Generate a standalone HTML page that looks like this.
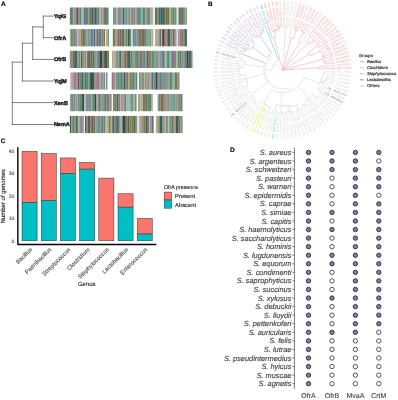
<!DOCTYPE html>
<html><head><meta charset="utf-8"><style>
html,body{margin:0;padding:0;background:#fff;}
body{width:398px;height:400px;overflow:hidden;}
svg{display:block;font-family:"Liberation Sans", sans-serif;text-rendering:geometricPrecision;will-change:transform;}
</style></head><body>
<svg width="398" height="400" viewBox="0 0 398 400">
<rect width="398" height="400" fill="#fff"/>
<text x="0.9" y="6.0" font-size="6.5" font-weight="bold" fill="#111" stroke="#111" stroke-width="0.2">A</text>
<path d="M12.3,62.2L12.3,124.5 M12.3,102.6L53.6,102.6 M12.3,124.5L53.6,124.5 M12.3,62.2L22.4,62.2 M22.4,43.2L22.4,81.0 M22.4,81.0L53.6,81.0 M22.4,43.2L32.7,43.2 M32.7,26.9L32.7,59.4 M32.7,59.4L53.6,59.4 M32.7,26.9L43.3,26.9 M43.3,16.1L43.3,37.7 M43.3,16.1L53.6,16.1 M43.3,37.7L53.6,37.7" stroke="#555" stroke-width="0.75" fill="none" stroke-linecap="square"/>
<text x="53.9" y="18.05" font-size="5.5" font-weight="bold" fill="#111" stroke="#111" stroke-width="0.35">YqiG</text>
<text x="53.9" y="39.65" font-size="5.5" font-weight="bold" fill="#111" stroke="#111" stroke-width="0.35">OfrA</text>
<text x="53.9" y="61.35" font-size="5.5" font-weight="bold" fill="#111" stroke="#111" stroke-width="0.35">OfrB</text>
<text x="53.9" y="82.95" font-size="5.5" font-weight="bold" fill="#111" stroke="#111" stroke-width="0.35">YqjM</text>
<text x="53.9" y="104.55" font-size="5.5" font-weight="bold" fill="#111" stroke="#111" stroke-width="0.35">XenB</text>
<text x="53.9" y="126.45" font-size="5.5" font-weight="bold" fill="#111" stroke="#111" stroke-width="0.35">NemA</text>
<rect x="69.80" y="7.50" width="1.25" height="17.2" fill="#5f8a72"/>
<rect x="71.00" y="7.50" width="1.55" height="17.2" fill="#7a7a4a"/>
<rect x="72.50" y="7.50" width="0.85" height="17.2" fill="#3f5e4e"/>
<rect x="73.30" y="7.50" width="2.65" height="17.2" fill="#b08ca4"/>
<rect x="75.90" y="7.50" width="0.85" height="17.2" fill="#7a6a52"/>
<rect x="76.70" y="7.50" width="1.85" height="17.2" fill="#3f5e4e"/>
<rect x="78.50" y="7.50" width="1.85" height="17.2" fill="#7f9488"/>
<rect x="80.30" y="7.50" width="0.85" height="17.2" fill="#3f5e4e"/>
<rect x="81.10" y="7.50" width="1.55" height="17.2" fill="#8fb0a6"/>
<rect x="82.60" y="7.50" width="0.85" height="17.2" fill="#7f9488"/>
<rect x="83.40" y="7.50" width="0.85" height="17.2" fill="#b08ca4"/>
<rect x="84.20" y="7.50" width="1.55" height="17.2" fill="#3f5e4e"/>
<rect x="85.70" y="7.50" width="2.65" height="17.2" fill="#6c7a94"/>
<rect x="88.30" y="7.50" width="0.85" height="17.2" fill="#7f9488"/>
<rect x="89.10" y="7.50" width="2.25" height="17.2" fill="#7a7a4a"/>
<rect x="91.30" y="7.50" width="1.85" height="17.2" fill="#3f5e4e"/>
<rect x="93.10" y="7.50" width="1.85" height="17.2" fill="#6c7a94"/>
<rect x="94.90" y="7.50" width="1.55" height="17.2" fill="#3f5e4e"/>
<rect x="96.40" y="7.50" width="1.05" height="17.2" fill="#3f5e4e"/>
<rect x="97.40" y="7.50" width="1.85" height="17.2" fill="#5f8a72"/>
<rect x="99.20" y="7.50" width="1.25" height="17.2" fill="#8fb0a6"/>
<rect x="100.40" y="7.50" width="1.05" height="17.2" fill="#b08ca4"/>
<rect x="101.40" y="7.50" width="0.85" height="17.2" fill="#6c7a94"/>
<rect x="102.20" y="7.50" width="1.25" height="17.2" fill="#b08ca4"/>
<rect x="103.40" y="7.50" width="2.65" height="17.2" fill="#7a7a4a"/>
<rect x="106.00" y="7.50" width="1.05" height="17.2" fill="#5f8a72"/>
<rect x="107.00" y="7.50" width="1.55" height="17.2" fill="#6c7a94"/>
<rect x="113.00" y="7.50" width="2.25" height="17.2" fill="#7f9488"/>
<rect x="115.20" y="7.50" width="1.25" height="17.2" fill="#5f8a72"/>
<rect x="116.40" y="7.50" width="1.85" height="17.2" fill="#b6ae8a"/>
<rect x="118.20" y="7.50" width="0.85" height="17.2" fill="#6c7a94"/>
<rect x="119.00" y="7.50" width="0.85" height="17.2" fill="#6c7a94"/>
<rect x="119.80" y="7.50" width="1.05" height="17.2" fill="#5a9a8c"/>
<rect x="120.80" y="7.50" width="2.25" height="17.2" fill="#b08ca4"/>
<rect x="123.00" y="7.50" width="1.55" height="17.2" fill="#58605c"/>
<rect x="124.50" y="7.50" width="1.25" height="17.2" fill="#5a9a8c"/>
<rect x="125.70" y="7.50" width="1.85" height="17.2" fill="#5a9a8c"/>
<rect x="127.50" y="7.50" width="1.25" height="17.2" fill="#9c9686"/>
<rect x="128.70" y="7.50" width="1.05" height="17.2" fill="#58605c"/>
<rect x="129.70" y="7.50" width="1.05" height="17.2" fill="#b6ae8a"/>
<rect x="130.70" y="7.50" width="2.65" height="17.2" fill="#7f9488"/>
<rect x="133.30" y="7.50" width="0.85" height="17.2" fill="#6c7a94"/>
<rect x="134.10" y="7.50" width="1.25" height="17.2" fill="#9a7a86"/>
<rect x="135.30" y="7.50" width="1.55" height="17.2" fill="#9c9686"/>
<rect x="136.80" y="7.50" width="2.25" height="17.2" fill="#5a9a8c"/>
<rect x="139.00" y="7.50" width="1.25" height="17.2" fill="#6c7a94"/>
<rect x="140.20" y="7.50" width="0.85" height="17.2" fill="#5f8a72"/>
<rect x="141.00" y="7.50" width="1.85" height="17.2" fill="#8fb0a6"/>
<rect x="142.80" y="7.50" width="1.05" height="17.2" fill="#58605c"/>
<rect x="143.80" y="7.50" width="1.25" height="17.2" fill="#5f8a72"/>
<rect x="145.00" y="7.50" width="1.55" height="17.2" fill="#8fb0a6"/>
<rect x="146.50" y="7.50" width="0.85" height="17.2" fill="#7a7a4a"/>
<rect x="147.30" y="7.50" width="0.85" height="17.2" fill="#58605c"/>
<rect x="148.10" y="7.50" width="1.85" height="17.2" fill="#6c7a94"/>
<rect x="149.90" y="7.50" width="2.65" height="17.2" fill="#a0b890"/>
<rect x="152.50" y="7.50" width="0.75" height="17.2" fill="#9c9686"/>
<rect x="154.90" y="7.50" width="2.25" height="17.2" fill="#7a6a52"/>
<rect x="157.10" y="7.50" width="1.85" height="17.2" fill="#5a9a8c"/>
<rect x="158.90" y="7.50" width="1.85" height="17.2" fill="#58605c"/>
<rect x="160.70" y="7.50" width="1.55" height="17.2" fill="#3f5e4e"/>
<rect x="162.20" y="7.50" width="2.65" height="17.2" fill="#3f5e4e"/>
<rect x="164.80" y="7.50" width="1.25" height="17.2" fill="#5a9a8c"/>
<rect x="166.00" y="7.50" width="2.25" height="17.2" fill="#7a7a4a"/>
<rect x="168.20" y="7.50" width="0.85" height="17.2" fill="#3f5e4e"/>
<rect x="169.00" y="7.50" width="2.25" height="17.2" fill="#b6ae8a"/>
<rect x="171.20" y="7.50" width="1.25" height="17.2" fill="#7a7a4a"/>
<rect x="172.40" y="7.50" width="1.85" height="17.2" fill="#7a7a4a"/>
<rect x="174.20" y="7.50" width="2.35" height="17.2" fill="#5a9a8c"/>
<rect x="177.70" y="7.50" width="1.25" height="17.2" fill="#b6ae8a"/>
<rect x="178.90" y="7.50" width="1.55" height="17.2" fill="#7a7a4a"/>
<rect x="180.40" y="7.50" width="1.25" height="17.2" fill="#34444a"/>
<rect x="181.60" y="7.50" width="1.55" height="17.2" fill="#7a6a52"/>
<rect x="183.10" y="7.50" width="1.05" height="17.2" fill="#6c7a94"/>
<rect x="184.10" y="7.50" width="0.85" height="17.2" fill="#5a9a8c"/>
<rect x="184.90" y="7.50" width="0.85" height="17.2" fill="#7f9488"/>
<rect x="185.70" y="7.50" width="1.35" height="17.2" fill="#9c9686"/>
<rect x="69.80" y="29.10" width="1.05" height="17.2" fill="#b6ae8a"/>
<rect x="70.80" y="29.10" width="1.05" height="17.2" fill="#7a6a52"/>
<rect x="71.80" y="29.10" width="1.55" height="17.2" fill="#5a9a8c"/>
<rect x="73.30" y="29.10" width="0.85" height="17.2" fill="#5f8a72"/>
<rect x="74.10" y="29.10" width="1.55" height="17.2" fill="#7a6a52"/>
<rect x="75.60" y="29.10" width="1.85" height="17.2" fill="#7f9488"/>
<rect x="77.40" y="29.10" width="1.05" height="17.2" fill="#a0b890"/>
<rect x="78.40" y="29.10" width="1.55" height="17.2" fill="#b08ca4"/>
<rect x="79.90" y="29.10" width="1.25" height="17.2" fill="#b6ae8a"/>
<rect x="81.10" y="29.10" width="1.55" height="17.2" fill="#7a6a52"/>
<rect x="82.60" y="29.10" width="2.25" height="17.2" fill="#7a6a52"/>
<rect x="84.80" y="29.10" width="1.05" height="17.2" fill="#5f8a72"/>
<rect x="85.80" y="29.10" width="0.85" height="17.2" fill="#5f8a72"/>
<rect x="86.60" y="29.10" width="1.05" height="17.2" fill="#7f9488"/>
<rect x="87.60" y="29.10" width="2.25" height="17.2" fill="#7f9488"/>
<rect x="89.80" y="29.10" width="0.85" height="17.2" fill="#5a9a8c"/>
<rect x="90.60" y="29.10" width="2.65" height="17.2" fill="#6c7a94"/>
<rect x="93.20" y="29.10" width="1.05" height="17.2" fill="#7f9488"/>
<rect x="94.20" y="29.10" width="1.25" height="17.2" fill="#34444a"/>
<rect x="95.40" y="29.10" width="1.05" height="17.2" fill="#8fb0a6"/>
<rect x="96.40" y="29.10" width="1.85" height="17.2" fill="#7a6a52"/>
<rect x="98.20" y="29.10" width="1.85" height="17.2" fill="#6c7a94"/>
<rect x="100.00" y="29.10" width="1.25" height="17.2" fill="#5f8a72"/>
<rect x="101.20" y="29.10" width="2.25" height="17.2" fill="#9a7a86"/>
<rect x="103.40" y="29.10" width="1.65" height="17.2" fill="#7a7a4a"/>
<rect x="105.80" y="29.10" width="2.25" height="17.2" fill="#b6ae8a"/>
<rect x="108.00" y="29.10" width="0.85" height="17.2" fill="#5a9a8c"/>
<rect x="108.80" y="29.10" width="0.25" height="17.2" fill="#58605c"/>
<rect x="112.80" y="29.10" width="2.65" height="17.2" fill="#7a7a4a"/>
<rect x="115.40" y="29.10" width="2.65" height="17.2" fill="#b08ca4"/>
<rect x="118.00" y="29.10" width="1.55" height="17.2" fill="#7a6a52"/>
<rect x="119.50" y="29.10" width="1.55" height="17.2" fill="#7a6a52"/>
<rect x="121.00" y="29.10" width="0.85" height="17.2" fill="#5a9a8c"/>
<rect x="121.80" y="29.10" width="2.25" height="17.2" fill="#7a6a52"/>
<rect x="124.00" y="29.10" width="0.85" height="17.2" fill="#7f9488"/>
<rect x="124.80" y="29.10" width="0.85" height="17.2" fill="#7f9488"/>
<rect x="125.60" y="29.10" width="1.55" height="17.2" fill="#5f8a72"/>
<rect x="127.10" y="29.10" width="0.85" height="17.2" fill="#9c9686"/>
<rect x="127.90" y="29.10" width="1.85" height="17.2" fill="#3f5e4e"/>
<rect x="129.70" y="29.10" width="0.85" height="17.2" fill="#34444a"/>
<rect x="130.50" y="29.10" width="0.85" height="17.2" fill="#5f8a72"/>
<rect x="132.60" y="29.10" width="1.85" height="17.2" fill="#5f8a72"/>
<rect x="134.40" y="29.10" width="1.25" height="17.2" fill="#6c7a94"/>
<rect x="135.60" y="29.10" width="0.85" height="17.2" fill="#3f5e4e"/>
<rect x="136.40" y="29.10" width="2.65" height="17.2" fill="#7f9488"/>
<rect x="139.00" y="29.10" width="1.85" height="17.2" fill="#7a6a52"/>
<rect x="140.80" y="29.10" width="1.05" height="17.2" fill="#7a7a4a"/>
<rect x="141.80" y="29.10" width="1.25" height="17.2" fill="#7a6a52"/>
<rect x="143.00" y="29.10" width="1.85" height="17.2" fill="#7a6a52"/>
<rect x="144.80" y="29.10" width="1.55" height="17.2" fill="#5f8a72"/>
<rect x="146.30" y="29.10" width="0.85" height="17.2" fill="#5a9a8c"/>
<rect x="147.10" y="29.10" width="1.55" height="17.2" fill="#5a9a8c"/>
<rect x="148.60" y="29.10" width="1.55" height="17.2" fill="#9c9686"/>
<rect x="150.10" y="29.10" width="0.85" height="17.2" fill="#5f8a72"/>
<rect x="150.90" y="29.10" width="0.85" height="17.2" fill="#b6ae8a"/>
<rect x="151.70" y="29.10" width="1.25" height="17.2" fill="#b6ae8a"/>
<rect x="152.90" y="29.10" width="0.35" height="17.2" fill="#5a9a8c"/>
<rect x="155.00" y="29.10" width="2.65" height="17.2" fill="#b6ae8a"/>
<rect x="157.60" y="29.10" width="1.05" height="17.2" fill="#9a7a86"/>
<rect x="158.60" y="29.10" width="0.85" height="17.2" fill="#7f9488"/>
<rect x="159.40" y="29.10" width="1.85" height="17.2" fill="#7a6a52"/>
<rect x="161.20" y="29.10" width="1.05" height="17.2" fill="#b6ae8a"/>
<rect x="162.20" y="29.10" width="1.85" height="17.2" fill="#34444a"/>
<rect x="164.00" y="29.10" width="2.65" height="17.2" fill="#9a7a86"/>
<rect x="166.60" y="29.10" width="1.25" height="17.2" fill="#7a7a4a"/>
<rect x="167.80" y="29.10" width="2.65" height="17.2" fill="#3f5e4e"/>
<rect x="170.40" y="29.10" width="2.25" height="17.2" fill="#7f9488"/>
<rect x="172.60" y="29.10" width="1.85" height="17.2" fill="#7a6a52"/>
<rect x="174.40" y="29.10" width="1.05" height="17.2" fill="#7a6a52"/>
<rect x="175.40" y="29.10" width="1.15" height="17.2" fill="#7f9488"/>
<rect x="177.70" y="29.10" width="1.85" height="17.2" fill="#b08ca4"/>
<rect x="179.50" y="29.10" width="2.65" height="17.2" fill="#9a7a86"/>
<rect x="182.10" y="29.10" width="1.25" height="17.2" fill="#7a7a4a"/>
<rect x="183.30" y="29.10" width="1.05" height="17.2" fill="#6c7a94"/>
<rect x="184.30" y="29.10" width="2.65" height="17.2" fill="#58605c"/>
<rect x="186.90" y="29.10" width="0.15" height="17.2" fill="#7f9488"/>
<rect x="69.80" y="50.80" width="2.65" height="17.2" fill="#7f9488"/>
<rect x="72.40" y="50.80" width="2.65" height="17.2" fill="#7a6a52"/>
<rect x="75.00" y="50.80" width="2.25" height="17.2" fill="#58605c"/>
<rect x="77.20" y="50.80" width="1.05" height="17.2" fill="#7f9488"/>
<rect x="78.20" y="50.80" width="1.85" height="17.2" fill="#5a9a8c"/>
<rect x="80.00" y="50.80" width="1.25" height="17.2" fill="#b6ae8a"/>
<rect x="81.20" y="50.80" width="0.85" height="17.2" fill="#34444a"/>
<rect x="82.00" y="50.80" width="2.65" height="17.2" fill="#7f9488"/>
<rect x="84.60" y="50.80" width="1.55" height="17.2" fill="#7f9488"/>
<rect x="86.10" y="50.80" width="1.05" height="17.2" fill="#b6ae8a"/>
<rect x="87.10" y="50.80" width="1.85" height="17.2" fill="#7a6a52"/>
<rect x="88.90" y="50.80" width="1.55" height="17.2" fill="#58605c"/>
<rect x="90.40" y="50.80" width="2.25" height="17.2" fill="#7a6a52"/>
<rect x="92.60" y="50.80" width="1.25" height="17.2" fill="#3f5e4e"/>
<rect x="93.80" y="50.80" width="1.05" height="17.2" fill="#5f8a72"/>
<rect x="94.80" y="50.80" width="1.05" height="17.2" fill="#5a9a8c"/>
<rect x="95.80" y="50.80" width="1.05" height="17.2" fill="#9c9686"/>
<rect x="96.80" y="50.80" width="1.05" height="17.2" fill="#5a9a8c"/>
<rect x="97.80" y="50.80" width="1.85" height="17.2" fill="#6c7a94"/>
<rect x="99.60" y="50.80" width="2.65" height="17.2" fill="#34444a"/>
<rect x="102.20" y="50.80" width="1.55" height="17.2" fill="#7a7a4a"/>
<rect x="103.70" y="50.80" width="1.25" height="17.2" fill="#58605c"/>
<rect x="104.90" y="50.80" width="2.25" height="17.2" fill="#3f5e4e"/>
<rect x="107.10" y="50.80" width="1.95" height="17.2" fill="#7a7a4a"/>
<rect x="112.40" y="50.80" width="0.85" height="17.2" fill="#7a6a52"/>
<rect x="113.20" y="50.80" width="2.65" height="17.2" fill="#b6ae8a"/>
<rect x="115.80" y="50.80" width="2.65" height="17.2" fill="#7f9488"/>
<rect x="118.40" y="50.80" width="1.55" height="17.2" fill="#5f8a72"/>
<rect x="119.90" y="50.80" width="1.55" height="17.2" fill="#58605c"/>
<rect x="121.40" y="50.80" width="2.25" height="17.2" fill="#9c9686"/>
<rect x="123.60" y="50.80" width="0.85" height="17.2" fill="#58605c"/>
<rect x="124.40" y="50.80" width="2.25" height="17.2" fill="#7a6a52"/>
<rect x="126.60" y="50.80" width="1.55" height="17.2" fill="#7a6a52"/>
<rect x="128.10" y="50.80" width="2.25" height="17.2" fill="#3f5e4e"/>
<rect x="130.30" y="50.80" width="2.25" height="17.2" fill="#5f8a72"/>
<rect x="132.50" y="50.80" width="1.05" height="17.2" fill="#5f8a72"/>
<rect x="133.50" y="50.80" width="0.85" height="17.2" fill="#5f8a72"/>
<rect x="134.30" y="50.80" width="1.85" height="17.2" fill="#5a9a8c"/>
<rect x="136.10" y="50.80" width="2.65" height="17.2" fill="#7a7a4a"/>
<rect x="138.70" y="50.80" width="1.05" height="17.2" fill="#6c7a94"/>
<rect x="139.70" y="50.80" width="2.65" height="17.2" fill="#6c7a94"/>
<rect x="142.30" y="50.80" width="1.55" height="17.2" fill="#7a7a4a"/>
<rect x="143.80" y="50.80" width="1.25" height="17.2" fill="#5f8a72"/>
<rect x="145.00" y="50.80" width="1.85" height="17.2" fill="#b08ca4"/>
<rect x="146.80" y="50.80" width="1.05" height="17.2" fill="#34444a"/>
<rect x="147.80" y="50.80" width="0.85" height="17.2" fill="#58605c"/>
<rect x="148.60" y="50.80" width="2.25" height="17.2" fill="#7a7a4a"/>
<rect x="150.80" y="50.80" width="0.85" height="17.2" fill="#9a7a86"/>
<rect x="151.60" y="50.80" width="2.25" height="17.2" fill="#5f8a72"/>
<rect x="153.80" y="50.80" width="1.55" height="17.2" fill="#7f9488"/>
<rect x="155.30" y="50.80" width="2.65" height="17.2" fill="#7f9488"/>
<rect x="157.90" y="50.80" width="0.85" height="17.2" fill="#7f9488"/>
<rect x="158.70" y="50.80" width="1.05" height="17.2" fill="#9c9686"/>
<rect x="159.70" y="50.80" width="1.85" height="17.2" fill="#7f9488"/>
<rect x="161.50" y="50.80" width="2.65" height="17.2" fill="#6c7a94"/>
<rect x="164.10" y="50.80" width="1.25" height="17.2" fill="#7f9488"/>
<rect x="165.30" y="50.80" width="1.85" height="17.2" fill="#8fb0a6"/>
<rect x="167.10" y="50.80" width="2.65" height="17.2" fill="#5f8a72"/>
<rect x="169.70" y="50.80" width="0.85" height="17.2" fill="#b6ae8a"/>
<rect x="170.50" y="50.80" width="1.25" height="17.2" fill="#5a9a8c"/>
<rect x="171.70" y="50.80" width="2.25" height="17.2" fill="#6c7a94"/>
<rect x="173.90" y="50.80" width="2.65" height="17.2" fill="#9a7a86"/>
<rect x="176.50" y="50.80" width="1.55" height="17.2" fill="#a0b890"/>
<rect x="178.00" y="50.80" width="1.85" height="17.2" fill="#5f8a72"/>
<rect x="179.80" y="50.80" width="1.85" height="17.2" fill="#5f8a72"/>
<rect x="181.60" y="50.80" width="1.85" height="17.2" fill="#9a7a86"/>
<rect x="183.40" y="50.80" width="0.85" height="17.2" fill="#5a9a8c"/>
<rect x="184.20" y="50.80" width="2.65" height="17.2" fill="#5f8a72"/>
<rect x="186.80" y="50.80" width="1.85" height="17.2" fill="#34444a"/>
<rect x="188.60" y="50.80" width="2.65" height="17.2" fill="#58605c"/>
<rect x="191.20" y="50.80" width="1.05" height="17.2" fill="#5f8a72"/>
<rect x="192.20" y="50.80" width="0.35" height="17.2" fill="#5a9a8c"/>
<rect x="70.30" y="72.40" width="1.85" height="17.2" fill="#b6ae8a"/>
<rect x="72.10" y="72.40" width="0.85" height="17.2" fill="#b08ca4"/>
<rect x="72.90" y="72.40" width="0.85" height="17.2" fill="#9c9686"/>
<rect x="73.70" y="72.40" width="2.25" height="17.2" fill="#9a7a86"/>
<rect x="75.90" y="72.40" width="1.85" height="17.2" fill="#b08ca4"/>
<rect x="77.70" y="72.40" width="1.55" height="17.2" fill="#58605c"/>
<rect x="79.20" y="72.40" width="2.65" height="17.2" fill="#5f8a72"/>
<rect x="81.80" y="72.40" width="1.85" height="17.2" fill="#3f5e4e"/>
<rect x="83.60" y="72.40" width="1.05" height="17.2" fill="#7f9488"/>
<rect x="84.60" y="72.40" width="1.25" height="17.2" fill="#3f5e4e"/>
<rect x="85.80" y="72.40" width="2.65" height="17.2" fill="#5f8a72"/>
<rect x="88.40" y="72.40" width="1.85" height="17.2" fill="#5a9a8c"/>
<rect x="90.20" y="72.40" width="1.85" height="17.2" fill="#34444a"/>
<rect x="92.00" y="72.40" width="2.65" height="17.2" fill="#3f5e4e"/>
<rect x="94.60" y="72.40" width="1.55" height="17.2" fill="#9c9686"/>
<rect x="96.10" y="72.40" width="1.85" height="17.2" fill="#9a7a86"/>
<rect x="97.90" y="72.40" width="1.85" height="17.2" fill="#9a7a86"/>
<rect x="99.70" y="72.40" width="1.05" height="17.2" fill="#b6ae8a"/>
<rect x="100.70" y="72.40" width="1.25" height="17.2" fill="#5a9a8c"/>
<rect x="101.90" y="72.40" width="1.85" height="17.2" fill="#b08ca4"/>
<rect x="103.70" y="72.40" width="1.35" height="17.2" fill="#5a9a8c"/>
<rect x="105.80" y="72.40" width="1.75" height="17.2" fill="#7f9488"/>
<rect x="111.70" y="72.40" width="2.25" height="17.2" fill="#9a7a86"/>
<rect x="113.90" y="72.40" width="1.25" height="17.2" fill="#b08ca4"/>
<rect x="115.10" y="72.40" width="1.05" height="17.2" fill="#a0b890"/>
<rect x="116.10" y="72.40" width="1.55" height="17.2" fill="#5f8a72"/>
<rect x="117.60" y="72.40" width="1.55" height="17.2" fill="#5f8a72"/>
<rect x="119.10" y="72.40" width="1.55" height="17.2" fill="#5a9a8c"/>
<rect x="120.60" y="72.40" width="1.25" height="17.2" fill="#3f5e4e"/>
<rect x="121.80" y="72.40" width="2.25" height="17.2" fill="#7f9488"/>
<rect x="124.00" y="72.40" width="1.55" height="17.2" fill="#3f5e4e"/>
<rect x="125.50" y="72.40" width="1.05" height="17.2" fill="#7a7a4a"/>
<rect x="126.50" y="72.40" width="1.25" height="17.2" fill="#58605c"/>
<rect x="127.70" y="72.40" width="0.85" height="17.2" fill="#58605c"/>
<rect x="128.50" y="72.40" width="1.05" height="17.2" fill="#b6ae8a"/>
<rect x="129.50" y="72.40" width="2.25" height="17.2" fill="#7a7a4a"/>
<rect x="131.70" y="72.40" width="1.25" height="17.2" fill="#5f8a72"/>
<rect x="132.90" y="72.40" width="1.25" height="17.2" fill="#5f8a72"/>
<rect x="134.10" y="72.40" width="1.55" height="17.2" fill="#7f9488"/>
<rect x="135.60" y="72.40" width="1.75" height="17.2" fill="#5f8a72"/>
<rect x="139.00" y="72.40" width="1.55" height="17.2" fill="#5a9a8c"/>
<rect x="140.50" y="72.40" width="1.05" height="17.2" fill="#7a7a4a"/>
<rect x="141.50" y="72.40" width="2.65" height="17.2" fill="#7f9488"/>
<rect x="144.10" y="72.40" width="1.05" height="17.2" fill="#b6ae8a"/>
<rect x="145.10" y="72.40" width="1.55" height="17.2" fill="#9a7a86"/>
<rect x="146.60" y="72.40" width="1.55" height="17.2" fill="#9c9686"/>
<rect x="148.10" y="72.40" width="1.55" height="17.2" fill="#7f9488"/>
<rect x="149.60" y="72.40" width="1.25" height="17.2" fill="#9c9686"/>
<rect x="150.80" y="72.40" width="0.85" height="17.2" fill="#b6ae8a"/>
<rect x="151.60" y="72.40" width="1.25" height="17.2" fill="#34444a"/>
<rect x="152.80" y="72.40" width="1.25" height="17.2" fill="#b08ca4"/>
<rect x="154.00" y="72.40" width="1.55" height="17.2" fill="#5a9a8c"/>
<rect x="155.50" y="72.40" width="2.25" height="17.2" fill="#34444a"/>
<rect x="157.70" y="72.40" width="1.55" height="17.2" fill="#9c9686"/>
<rect x="159.20" y="72.40" width="1.85" height="17.2" fill="#6c7a94"/>
<rect x="161.00" y="72.40" width="1.25" height="17.2" fill="#9a7a86"/>
<rect x="162.20" y="72.40" width="0.85" height="17.2" fill="#5f8a72"/>
<rect x="163.00" y="72.40" width="2.65" height="17.2" fill="#7f9488"/>
<rect x="165.60" y="72.40" width="0.85" height="17.2" fill="#3f5e4e"/>
<rect x="166.40" y="72.40" width="1.25" height="17.2" fill="#7f9488"/>
<rect x="167.60" y="72.40" width="0.85" height="17.2" fill="#58605c"/>
<rect x="168.40" y="72.40" width="1.05" height="17.2" fill="#7f9488"/>
<rect x="169.40" y="72.40" width="2.65" height="17.2" fill="#5f8a72"/>
<rect x="172.00" y="72.40" width="2.65" height="17.2" fill="#8fb0a6"/>
<rect x="174.60" y="72.40" width="2.65" height="17.2" fill="#7a7a4a"/>
<rect x="177.20" y="72.40" width="2.35" height="17.2" fill="#7f9488"/>
<rect x="70.30" y="94.00" width="1.55" height="17.2" fill="#5f8a72"/>
<rect x="71.80" y="94.00" width="1.85" height="17.2" fill="#9a7a86"/>
<rect x="73.60" y="94.00" width="1.85" height="17.2" fill="#5a9a8c"/>
<rect x="75.40" y="94.00" width="2.25" height="17.2" fill="#9c9686"/>
<rect x="77.60" y="94.00" width="0.85" height="17.2" fill="#7f9488"/>
<rect x="78.40" y="94.00" width="0.85" height="17.2" fill="#58605c"/>
<rect x="79.20" y="94.00" width="2.25" height="17.2" fill="#5f8a72"/>
<rect x="81.40" y="94.00" width="1.55" height="17.2" fill="#3f5e4e"/>
<rect x="82.90" y="94.00" width="1.25" height="17.2" fill="#34444a"/>
<rect x="84.10" y="94.00" width="0.25" height="17.2" fill="#3f5e4e"/>
<rect x="85.40" y="94.00" width="2.65" height="17.2" fill="#7f9488"/>
<rect x="88.00" y="94.00" width="0.85" height="17.2" fill="#6c7a94"/>
<rect x="88.80" y="94.00" width="2.65" height="17.2" fill="#7f9488"/>
<rect x="91.40" y="94.00" width="0.85" height="17.2" fill="#7f9488"/>
<rect x="92.20" y="94.00" width="2.65" height="17.2" fill="#5f8a72"/>
<rect x="94.80" y="94.00" width="1.55" height="17.2" fill="#34444a"/>
<rect x="96.30" y="94.00" width="1.25" height="17.2" fill="#b08ca4"/>
<rect x="97.50" y="94.00" width="1.55" height="17.2" fill="#7f9488"/>
<rect x="99.00" y="94.00" width="1.85" height="17.2" fill="#5f8a72"/>
<rect x="100.80" y="94.00" width="0.85" height="17.2" fill="#9a7a86"/>
<rect x="101.60" y="94.00" width="2.25" height="17.2" fill="#7f9488"/>
<rect x="103.80" y="94.00" width="0.85" height="17.2" fill="#5f8a72"/>
<rect x="104.60" y="94.00" width="1.25" height="17.2" fill="#3f5e4e"/>
<rect x="105.80" y="94.00" width="1.05" height="17.2" fill="#7f9488"/>
<rect x="106.80" y="94.00" width="1.25" height="17.2" fill="#7a7a4a"/>
<rect x="108.00" y="94.00" width="1.25" height="17.2" fill="#9a7a86"/>
<rect x="109.20" y="94.00" width="2.45" height="17.2" fill="#7f9488"/>
<rect x="112.90" y="94.00" width="1.25" height="17.2" fill="#5a9a8c"/>
<rect x="114.10" y="94.00" width="1.85" height="17.2" fill="#7a7a4a"/>
<rect x="115.90" y="94.00" width="1.05" height="17.2" fill="#7f9488"/>
<rect x="116.90" y="94.00" width="1.25" height="17.2" fill="#58605c"/>
<rect x="118.10" y="94.00" width="0.85" height="17.2" fill="#7f9488"/>
<rect x="118.90" y="94.00" width="0.85" height="17.2" fill="#34444a"/>
<rect x="119.70" y="94.00" width="0.85" height="17.2" fill="#b6ae8a"/>
<rect x="120.50" y="94.00" width="1.85" height="17.2" fill="#b08ca4"/>
<rect x="122.30" y="94.00" width="1.05" height="17.2" fill="#9a7a86"/>
<rect x="123.30" y="94.00" width="1.55" height="17.2" fill="#7f9488"/>
<rect x="124.80" y="94.00" width="1.55" height="17.2" fill="#5f8a72"/>
<rect x="126.30" y="94.00" width="2.25" height="17.2" fill="#a0b890"/>
<rect x="128.50" y="94.00" width="2.25" height="17.2" fill="#8fb0a6"/>
<rect x="130.70" y="94.00" width="2.25" height="17.2" fill="#5a9a8c"/>
<rect x="132.90" y="94.00" width="1.85" height="17.2" fill="#a0b890"/>
<rect x="134.70" y="94.00" width="1.55" height="17.2" fill="#9a7a86"/>
<rect x="136.20" y="94.00" width="0.85" height="17.2" fill="#b6ae8a"/>
<rect x="138.20" y="94.00" width="1.05" height="17.2" fill="#7f9488"/>
<rect x="139.20" y="94.00" width="1.25" height="17.2" fill="#7f9488"/>
<rect x="140.40" y="94.00" width="2.65" height="17.2" fill="#b6ae8a"/>
<rect x="143.00" y="94.00" width="2.25" height="17.2" fill="#7a7a4a"/>
<rect x="145.20" y="94.00" width="1.05" height="17.2" fill="#7a6a52"/>
<rect x="146.20" y="94.00" width="1.25" height="17.2" fill="#3f5e4e"/>
<rect x="147.40" y="94.00" width="2.65" height="17.2" fill="#5f8a72"/>
<rect x="150.00" y="94.00" width="0.85" height="17.2" fill="#3f5e4e"/>
<rect x="150.80" y="94.00" width="2.05" height="17.2" fill="#b6ae8a"/>
<rect x="157.50" y="94.00" width="1.25" height="17.2" fill="#8fb0a6"/>
<rect x="158.70" y="94.00" width="1.05" height="17.2" fill="#3f5e4e"/>
<rect x="159.70" y="94.00" width="0.85" height="17.2" fill="#7a7a4a"/>
<rect x="160.50" y="94.00" width="2.65" height="17.2" fill="#7a6a52"/>
<rect x="163.10" y="94.00" width="2.65" height="17.2" fill="#9a7a86"/>
<rect x="165.70" y="94.00" width="2.25" height="17.2" fill="#9c9686"/>
<rect x="167.90" y="94.00" width="1.85" height="17.2" fill="#7f9488"/>
<rect x="169.70" y="94.00" width="2.25" height="17.2" fill="#9c9686"/>
<rect x="171.90" y="94.00" width="0.85" height="17.2" fill="#5a9a8c"/>
<rect x="172.70" y="94.00" width="1.05" height="17.2" fill="#5f8a72"/>
<rect x="173.70" y="94.00" width="1.25" height="17.2" fill="#5a9a8c"/>
<rect x="174.90" y="94.00" width="0.85" height="17.2" fill="#7f9488"/>
<rect x="175.70" y="94.00" width="1.25" height="17.2" fill="#9c9686"/>
<rect x="176.90" y="94.00" width="1.85" height="17.2" fill="#9c9686"/>
<rect x="178.70" y="94.00" width="1.05" height="17.2" fill="#3f5e4e"/>
<rect x="179.70" y="94.00" width="1.25" height="17.2" fill="#7f9488"/>
<rect x="180.90" y="94.00" width="1.25" height="17.2" fill="#5f8a72"/>
<rect x="182.10" y="94.00" width="0.55" height="17.2" fill="#9c9686"/>
<rect x="69.90" y="115.90" width="1.55" height="17.2" fill="#3f5e4e"/>
<rect x="71.40" y="115.90" width="1.55" height="17.2" fill="#7f9488"/>
<rect x="72.90" y="115.90" width="1.85" height="17.2" fill="#7a7a4a"/>
<rect x="74.70" y="115.90" width="1.05" height="17.2" fill="#7f9488"/>
<rect x="75.70" y="115.90" width="1.85" height="17.2" fill="#58605c"/>
<rect x="77.50" y="115.90" width="0.85" height="17.2" fill="#3f5e4e"/>
<rect x="78.30" y="115.90" width="1.25" height="17.2" fill="#a0b890"/>
<rect x="79.50" y="115.90" width="0.85" height="17.2" fill="#5f8a72"/>
<rect x="80.30" y="115.90" width="1.55" height="17.2" fill="#6c7a94"/>
<rect x="81.80" y="115.90" width="0.85" height="17.2" fill="#7a6a52"/>
<rect x="82.60" y="115.90" width="0.85" height="17.2" fill="#9c9686"/>
<rect x="83.40" y="115.90" width="0.45" height="17.2" fill="#7a7a4a"/>
<rect x="84.90" y="115.90" width="1.05" height="17.2" fill="#3f5e4e"/>
<rect x="85.90" y="115.90" width="1.85" height="17.2" fill="#9a7a86"/>
<rect x="87.70" y="115.90" width="2.65" height="17.2" fill="#58605c"/>
<rect x="90.30" y="115.90" width="1.05" height="17.2" fill="#7a7a4a"/>
<rect x="91.30" y="115.90" width="2.25" height="17.2" fill="#58605c"/>
<rect x="93.50" y="115.90" width="1.85" height="17.2" fill="#7a6a52"/>
<rect x="95.30" y="115.90" width="2.65" height="17.2" fill="#9c9686"/>
<rect x="97.90" y="115.90" width="2.25" height="17.2" fill="#5a9a8c"/>
<rect x="100.10" y="115.90" width="1.05" height="17.2" fill="#9c9686"/>
<rect x="101.10" y="115.90" width="2.25" height="17.2" fill="#6c7a94"/>
<rect x="103.30" y="115.90" width="2.25" height="17.2" fill="#5f8a72"/>
<rect x="105.50" y="115.90" width="0.85" height="17.2" fill="#a0b890"/>
<rect x="106.30" y="115.90" width="2.65" height="17.2" fill="#b6ae8a"/>
<rect x="108.90" y="115.90" width="1.85" height="17.2" fill="#7a7a4a"/>
<rect x="110.70" y="115.90" width="1.55" height="17.2" fill="#b6ae8a"/>
<rect x="112.20" y="115.90" width="2.25" height="17.2" fill="#58605c"/>
<rect x="114.40" y="115.90" width="1.85" height="17.2" fill="#5f8a72"/>
<rect x="116.20" y="115.90" width="1.85" height="17.2" fill="#58605c"/>
<rect x="118.00" y="115.90" width="1.85" height="17.2" fill="#6c7a94"/>
<rect x="119.80" y="115.90" width="2.65" height="17.2" fill="#a0b890"/>
<rect x="122.40" y="115.90" width="2.65" height="17.2" fill="#34444a"/>
<rect x="125.00" y="115.90" width="2.65" height="17.2" fill="#7a7a4a"/>
<rect x="127.60" y="115.90" width="1.85" height="17.2" fill="#58605c"/>
<rect x="129.40" y="115.90" width="2.25" height="17.2" fill="#7a7a4a"/>
<rect x="131.60" y="115.90" width="2.25" height="17.2" fill="#7a7a4a"/>
<rect x="133.80" y="115.90" width="1.05" height="17.2" fill="#3f5e4e"/>
<rect x="134.80" y="115.90" width="0.85" height="17.2" fill="#3f5e4e"/>
<rect x="135.60" y="115.90" width="1.05" height="17.2" fill="#7a7a4a"/>
<rect x="136.60" y="115.90" width="0.75" height="17.2" fill="#5f8a72"/>
<rect x="138.70" y="115.90" width="1.55" height="17.2" fill="#a0b890"/>
<rect x="140.20" y="115.90" width="1.55" height="17.2" fill="#b08ca4"/>
<rect x="141.70" y="115.90" width="0.85" height="17.2" fill="#7a7a4a"/>
<rect x="142.50" y="115.90" width="0.85" height="17.2" fill="#7a7a4a"/>
<rect x="143.30" y="115.90" width="1.85" height="17.2" fill="#7a7a4a"/>
<rect x="145.10" y="115.90" width="1.05" height="17.2" fill="#5a9a8c"/>
<rect x="146.10" y="115.90" width="1.25" height="17.2" fill="#34444a"/>
<rect x="147.30" y="115.90" width="1.55" height="17.2" fill="#58605c"/>
<rect x="148.80" y="115.90" width="0.85" height="17.2" fill="#b6ae8a"/>
<rect x="149.60" y="115.90" width="1.85" height="17.2" fill="#b08ca4"/>
<rect x="151.40" y="115.90" width="0.85" height="17.2" fill="#7a7a4a"/>
<rect x="152.20" y="115.90" width="1.35" height="17.2" fill="#3f5e4e"/>
<rect x="155.80" y="115.90" width="2.25" height="17.2" fill="#b6ae8a"/>
<rect x="158.00" y="115.90" width="1.55" height="17.2" fill="#7f9488"/>
<rect x="159.50" y="115.90" width="2.65" height="17.2" fill="#3f5e4e"/>
<rect x="162.10" y="115.90" width="2.65" height="17.2" fill="#7f9488"/>
<rect x="164.70" y="115.90" width="1.05" height="17.2" fill="#b6ae8a"/>
<rect x="165.70" y="115.90" width="2.65" height="17.2" fill="#7f9488"/>
<rect x="168.30" y="115.90" width="1.05" height="17.2" fill="#b6ae8a"/>
<rect x="169.30" y="115.90" width="2.25" height="17.2" fill="#5a9a8c"/>
<rect x="171.50" y="115.90" width="1.55" height="17.2" fill="#7a6a52"/>
<rect x="173.00" y="115.90" width="0.85" height="17.2" fill="#5a9a8c"/>
<rect x="173.80" y="115.90" width="2.25" height="17.2" fill="#9c9686"/>
<rect x="176.00" y="115.90" width="2.65" height="17.2" fill="#3f5e4e"/>
<rect x="178.60" y="115.90" width="1.85" height="17.2" fill="#7a7a4a"/>
<rect x="180.40" y="115.90" width="2.25" height="17.2" fill="#7f9488"/>
<text x="207.9" y="5.7" font-size="6.3" font-weight="bold" fill="#111" stroke="#111" stroke-width="0.2">B</text>
<path d="M318.37,68.94L330.48,68.58 M318.24,66.85L330.31,65.79 M318.37,68.94A35.88,35.88 0 0 0 318.24,66.85 M282.50,70.00L318.32,67.89 M325.27,63.71L329.99,63.02 M324.83,61.23L329.50,60.27 M325.27,63.71A43.23,43.23 0 0 0 324.83,61.23 M323.87,62.68L325.07,62.47 M325.39,58.48L328.86,57.55 M324.65,56.01L328.05,54.88 M325.39,58.48A44.41,44.41 0 0 0 324.65,56.01 M323.89,57.58L325.04,57.24 M322.65,54.02L327.10,52.25 M323.89,57.58A43.21,43.21 0 0 0 322.65,54.02 M322.18,56.18L323.31,55.79 M323.87,62.68A42.01,42.01 0 0 0 322.18,56.18 M282.50,70.00L323.15,59.40 M320.31,52.34L325.99,49.69 M319.22,50.18L324.74,47.19 M320.31,52.34A41.73,41.73 0 0 0 319.22,50.18 M310.39,55.97L319.78,51.25 M318.70,47.64L323.34,44.78 M319.29,44.20L321.80,42.45 M317.73,42.11L320.13,40.21 M319.29,44.20A44.94,44.94 0 0 0 317.73,42.11 M316.62,44.57L318.53,43.15 M318.70,47.64A42.55,42.55 0 0 0 316.62,44.57 M308.32,52.45L317.69,46.08 M310.39,55.97A31.22,31.22 0 0 0 308.32,52.45 M282.50,70.00L309.42,54.18 M313.83,42.08L318.34,38.07 M312.16,40.31L316.42,36.04 M313.83,42.08A41.97,41.97 0 0 0 312.16,40.31 M310.49,43.56L313.01,41.18 M311.27,37.64L314.39,34.12 M309.34,36.02L312.25,32.33 M311.27,37.64A43.30,43.30 0 0 0 309.34,36.02 M307.23,40.49L310.31,36.81 M310.49,43.56A38.50,38.50 0 0 0 307.23,40.49 M282.50,70.00L308.90,41.98 M304.98,33.51L307.68,29.13 M303.39,31.21L305.26,27.74 M301.10,30.06L302.76,26.49 M303.39,31.21A44.06,44.06 0 0 0 301.10,30.06 M301.71,31.69L302.25,30.62 M304.98,33.51A42.86,42.86 0 0 0 301.71,31.69 M298.31,41.64L303.36,32.57 M301.11,43.39A32.47,32.47 0 0 0 298.31,41.64 M282.50,70.00L299.73,42.48 M298.15,30.55L300.20,25.38 M296.20,28.57L297.57,24.43 M293.77,27.84L294.90,23.63 M296.20,28.57A43.64,43.64 0 0 0 293.77,27.84 M294.65,29.34L294.99,28.19 M298.15,30.55A42.44,42.44 0 0 0 294.65,29.34 M293.33,38.79L296.41,29.91 M293.33,38.79A33.04,33.04 0 0 0 289.16,37.64 M282.50,70.00L291.26,38.15 M283.72,27.07L283.87,22.02 M281.22,26.91L281.08,22.02 M278.61,25.87L278.29,22.19 M276.05,26.17L275.52,22.51 M278.61,25.87A44.30,44.30 0 0 0 276.05,26.17 M277.47,27.19L277.33,26.00 M281.22,26.91A43.10,43.10 0 0 0 277.47,27.19 M279.50,29.11L279.34,27.01 M274.19,29.85L272.77,23.00 M279.50,29.11A41.00,41.00 0 0 0 274.19,29.85 M277.00,30.58L276.83,29.39 M272.18,31.56L270.05,23.64 M277.00,30.58A39.80,39.80 0 0 0 272.18,31.56 M275.77,36.92L274.57,31.00 M275.77,36.92A33.76,33.76 0 0 0 271.86,37.96 M282.50,70.00L273.80,37.38" stroke="#f3a3a3" stroke-width="0.55" fill="none"/>
<path d="M301.11,43.39L310.01,30.66 M289.16,37.64L292.18,22.99 M288.87,26.32L289.43,22.50 M286.32,26.02L286.66,22.18 M288.87,26.32A44.14,44.14 0 0 0 286.32,26.02 M287.46,27.34L287.60,26.15 M287.46,27.34A42.94,42.94 0 0 0 283.72,27.07 M282.50,70.00L285.60,27.17 M260.62,101.28L254.99,109.34 M270.14,107.38L267.43,115.57 M260.62,101.28A38.17,38.17 0 0 0 267.53,105.12 M271.58,89.67L263.98,103.38 M271.04,112.88L270.10,116.37 M273.55,113.48L272.82,117.01 M271.04,112.88A44.39,44.39 0 0 0 273.55,113.48 M273.07,109.89L272.29,113.20 M273.07,109.89A40.98,40.98 0 0 0 276.58,110.56 M275.88,104.71L274.82,110.26 M278.83,112.19L278.34,117.82 M281.26,113.53L281.13,117.98 M283.79,113.53L283.92,117.98 M281.26,113.53A43.55,43.55 0 0 0 283.79,113.53 M282.52,112.35L282.53,113.55 M278.83,112.19A42.35,42.35 0 0 0 282.52,112.35 M280.93,106.51L280.68,112.31 M286.19,111.93L286.71,117.81 M288.97,114.02L289.48,117.49 M291.52,113.57L292.23,117.00 M288.97,114.02A44.50,44.50 0 0 0 291.52,113.57 M290.04,112.63L290.25,113.82 M293.73,111.81L294.95,116.36 M290.04,112.63A43.30,43.30 0 0 0 293.73,111.81 M291.64,111.09L291.90,112.26 M286.19,111.93A42.10,42.10 0 0 0 291.64,111.09 M288.26,107.30L288.93,111.60 M296.19,111.24L297.62,115.55 M298.57,110.37L300.25,114.60 M296.19,111.24A43.45,43.45 0 0 0 298.57,110.37 M296.97,109.70L297.39,110.82 M300.38,108.28L302.81,113.49 M296.97,109.70A42.25,42.25 0 0 0 300.38,108.28 M296.96,104.86L298.69,109.03 M288.26,107.30A37.74,37.74 0 0 0 296.96,104.86 M292.36,105.18L292.69,106.34 M280.93,106.51A36.54,36.54 0 0 0 292.36,105.18 M286.56,105.11L286.70,106.30 M275.88,104.71A35.34,35.34 0 0 0 286.56,105.11 M281.67,92.48L281.20,105.32 M301.89,105.90L305.31,112.24 M304.57,105.74L307.72,110.84 M306.61,104.39L310.05,109.30 M304.57,105.74A42.00,42.00 0 0 0 306.61,104.39 M304.94,104.08L305.60,105.08 M301.89,105.90A40.80,40.80 0 0 0 304.94,104.08 M302.82,103.99L303.43,105.02 M309.07,103.57L312.29,107.63 M310.98,101.96L314.43,105.84 M309.07,103.57A42.81,42.81 0 0 0 310.98,101.96 M308.86,101.37L310.04,102.78 M311.49,98.96L316.46,103.92 M308.86,101.37A40.97,40.97 0 0 0 311.49,98.96 M309.27,99.18L310.20,100.19 M302.82,103.99A39.60,39.60 0 0 0 309.27,99.18 M305.45,100.79L306.17,101.75 M314.87,98.77L318.38,101.89 M317.43,97.59L320.17,99.75 M318.98,95.51L321.84,97.51 M317.43,97.59A44.51,44.51 0 0 0 318.98,95.51 M317.26,95.84L318.22,96.56 M314.87,98.77A43.31,43.31 0 0 0 317.26,95.84 M312.29,94.24L316.10,97.34 M305.45,100.79A38.40,38.40 0 0 0 312.29,94.24 M298.07,86.24L309.07,97.73 M319.64,92.88L323.37,95.18 M320.90,90.68L324.76,92.76 M319.64,92.88A43.62,43.62 0 0 0 320.90,90.68 M318.69,90.87L320.29,91.79 M320.38,87.63L326.01,90.26 M318.69,90.87A41.78,41.78 0 0 0 320.38,87.63 M317.62,88.25L319.57,89.27 M321.52,85.48L327.12,87.70 M323.49,83.56L328.07,85.07 M325.37,81.46L328.87,82.40 M327.14,79.19L329.51,79.68 M327.60,76.58L330.00,76.93 M327.14,79.19A45.58,45.58 0 0 0 327.60,76.58 M326.21,77.68L327.39,77.89 M325.37,81.46A44.38,44.38 0 0 0 326.21,77.68 M324.66,79.32L325.83,79.58 M323.49,83.56A43.18,43.18 0 0 0 324.66,79.32 M322.97,81.14L324.13,81.45 M321.52,85.48A41.98,41.98 0 0 0 322.97,81.14 M321.17,82.94L322.31,83.33 M324.32,73.63L330.32,74.16 M324.46,71.20L330.48,71.37 M324.32,73.63A41.98,41.98 0 0 0 324.46,71.20 M323.21,72.35L324.41,72.42 M321.17,82.94A40.78,40.78 0 0 0 323.21,72.35 M321.36,77.49L322.54,77.71 M317.62,88.25A39.58,39.58 0 0 0 321.36,77.49 M303.75,77.39L319.88,83.01 M271.58,89.67A22.50,22.50 0 0 0 303.75,77.39 M289.28,87.75L290.52,91.02 M239.96,55.93L236.93,54.93 M239.21,58.43L236.13,57.60 M239.96,55.93A44.81,44.81 0 0 0 239.21,58.43 M241.59,57.78L239.57,57.17 M240.68,61.39L235.49,60.32 M241.59,57.78A42.69,42.69 0 0 0 240.68,61.39 M244.81,60.51L241.10,59.58 M239.33,63.70L235.00,63.07 M239.04,66.22L234.68,65.84 M239.33,63.70A43.62,43.62 0 0 0 239.04,66.22 M240.36,65.10L239.17,64.96 M238.89,68.76L234.52,68.63 M238.89,71.29L234.52,71.42 M238.89,68.76A43.62,43.62 0 0 0 238.89,71.29 M240.08,70.02L238.88,70.03 M240.36,65.10A42.42,42.42 0 0 0 240.08,70.02 M243.70,67.76L240.15,67.56 M244.81,60.51A38.86,38.86 0 0 0 243.70,67.76 M263.72,67.12L244.08,64.11 M240.14,73.73L234.69,74.21 M240.43,76.19L235.01,76.98 M240.14,73.73A42.52,42.52 0 0 0 240.43,76.19 M245.68,74.32L240.27,74.96 M241.98,78.39L235.50,79.73 M239.26,81.61L236.14,82.45 M240.01,84.11L236.95,85.12 M239.26,81.61A44.77,44.77 0 0 0 240.01,84.11 M242.87,81.89L239.62,82.87 M241.98,78.39A41.38,41.38 0 0 0 242.87,81.89 M245.40,79.39L242.39,80.15 M242.89,85.76L237.90,87.75 M243.87,88.04L239.01,90.31 M242.89,85.76A42.63,42.63 0 0 0 243.87,88.04 M245.30,86.07L243.37,86.91 M246.84,89.25L240.26,92.81 M245.30,86.07A40.52,40.52 0 0 0 246.84,89.25 M248.06,86.70L246.04,87.68 M245.40,79.39A38.27,38.27 0 0 0 248.06,86.70 M247.67,82.70L246.55,83.11 M245.68,74.32A37.07,37.07 0 0 0 247.67,82.70 M264.01,74.39L246.43,78.57 M244.65,93.38L241.66,95.22 M246.07,95.54L243.20,97.55 M244.65,93.38A44.49,44.49 0 0 0 246.07,95.54 M249.97,91.42L245.35,94.47 M250.00,95.73L244.87,99.79 M251.55,97.58L246.66,101.93 M250.00,95.73A41.45,41.45 0 0 0 251.55,97.58 M251.76,95.82L250.76,96.66 M253.23,99.31L248.58,103.96 M254.19,101.85L250.61,105.88 M256.09,103.45L252.75,107.67 M254.19,101.85A42.62,42.62 0 0 0 256.09,103.45 M255.89,101.74L255.12,102.66 M253.23,99.31A41.42,41.42 0 0 0 255.89,101.74 M255.39,99.62L254.54,100.55 M251.76,95.82A40.15,40.15 0 0 0 255.39,99.62 M254.38,96.95L253.52,97.78 M249.97,91.42A38.95,38.95 0 0 0 254.38,96.95 M267.65,81.85L252.05,94.28 M264.84,63.00A19.00,19.00 0 0 0 289.28,87.75 M270.05,82.29L268.98,83.35 M270.60,57.17A17.50,17.50 0 0 0 270.05,82.29 M272.00,69.77L265.00,69.61 M278.62,60.24A10.50,10.50 0 0 0 272.00,69.77 M282.50,70.00L273.88,64.01" stroke="#d4d4d4" stroke-width="0.55" fill="none"/>
<path d="M271.86,37.96L267.38,24.45 M278.62,60.24L264.75,25.40" stroke="#5cc8b4" stroke-width="0.55" fill="none"/>
<path d="M263.80,29.95L262.19,26.51 M261.50,31.10L259.69,27.76 M263.80,29.95A44.20,44.20 0 0 0 261.50,31.10 M263.41,32.05L262.64,30.51 M260.18,33.85L257.28,29.16 M263.41,32.05A42.48,42.48 0 0 0 260.18,33.85 M262.36,33.96L261.77,32.91 M258.11,35.21L254.95,30.70 M254.65,34.82L252.71,32.37 M252.65,36.50L250.57,34.16 M254.65,34.82A44.87,44.87 0 0 0 252.65,36.50 M255.17,37.47L253.64,35.64 M258.11,35.21A42.48,42.48 0 0 0 255.17,37.47 M257.35,37.26L256.62,36.31 M262.36,33.96A41.28,41.28 0 0 0 257.35,37.26 M271.50,53.30L259.79,35.52 M252.95,40.49L248.54,36.08 M251.29,42.25L246.62,38.11 M252.95,40.49A41.76,41.76 0 0 0 251.29,42.25 M255.09,44.17L252.11,41.36 M248.43,43.09L244.83,40.25 M246.92,45.12L243.16,42.49 M248.43,43.09A43.41,43.41 0 0 0 246.92,45.12 M249.42,45.40L247.66,44.10 M245.35,47.12L241.63,44.82 M244.09,49.32L240.24,47.24 M245.35,47.12A43.63,43.63 0 0 0 244.09,49.32 M245.74,48.81L244.70,48.21 M244.04,52.09L238.99,49.74 M245.74,48.81A42.43,42.43 0 0 0 244.04,52.09 M245.92,50.98L244.85,50.43 M249.42,45.40A41.23,41.23 0 0 0 245.92,50.98 M250.57,50.01L247.56,48.12 M255.09,44.17A37.67,37.67 0 0 0 250.57,50.01 M266.67,57.78L252.69,46.98 M271.50,53.30A20.00,20.00 0 0 0 266.67,57.78 M270.60,57.17L268.90,55.34" stroke="#b8aad2" stroke-width="0.55" fill="none"/>
<path d="M260.11,106.35L257.32,110.87 M261.12,109.70L259.74,112.26 M263.47,110.88L262.24,113.51 M261.12,109.70A45.09,45.09 0 0 0 263.47,110.88 M262.82,109.24L262.29,110.31 M266.32,110.80L264.80,114.62 M262.82,109.24A43.89,43.89 0 0 0 266.32,110.80 M265.04,108.96L264.55,110.06 M260.11,106.35A42.69,42.69 0 0 0 265.04,108.96 M264.09,104.80L262.53,107.74 M264.09,104.80A39.37,39.37 0 0 0 270.14,107.38 M267.53,105.12L267.06,106.22" stroke="#e2e27a" stroke-width="0.55" fill="none"/>
<path d="M276.58,110.56L275.57,117.50" stroke="#7ad8e6" stroke-width="0.55" fill="none"/>
<path d="M264.84,63.00L237.88,52.30" stroke="#a49cbc" stroke-width="0.55" fill="none"/>
<g font-size="2.9">
<text x="331.08" y="68.56" dy="1.0" fill="#eca8a8" textLength="20.4" lengthAdjust="spacingAndGlyphs" transform="rotate(-1.70 331.08 68.56)">NA  569777818</text>
<text x="330.91" y="65.74" dy="1.0" fill="#eca8a8" textLength="20.4" lengthAdjust="spacingAndGlyphs" transform="rotate(-5.03 330.91 65.74)">CN  917031797</text>
<text x="330.58" y="62.93" dy="1.0" fill="#eca8a8" textLength="20.4" lengthAdjust="spacingAndGlyphs" transform="rotate(-8.37 330.58 62.93)">AN  429382577</text>
<text x="330.09" y="60.14" dy="1.0" fill="#eca8a8" textLength="20.4" lengthAdjust="spacingAndGlyphs" transform="rotate(-11.70 330.09 60.14)">ZA  436336395</text>
<text x="329.44" y="57.39" dy="1.0" fill="#eca8a8" textLength="20.4" lengthAdjust="spacingAndGlyphs" transform="rotate(-15.03 329.44 57.39)">ZZ  75014217</text>
<text x="328.62" y="54.69" dy="1.0" fill="#eca8a8" textLength="20.4" lengthAdjust="spacingAndGlyphs" transform="rotate(-18.37 328.62 54.69)">BA  66875975</text>
<text x="327.66" y="52.03" dy="1.0" fill="#eca8a8" textLength="20.4" lengthAdjust="spacingAndGlyphs" transform="rotate(-21.70 327.66 52.03)">NN  904954902</text>
<text x="326.53" y="49.44" dy="1.0" fill="#eca8a8" textLength="20.4" lengthAdjust="spacingAndGlyphs" transform="rotate(-25.03 326.53 49.44)">BB  04320171</text>
<text x="325.26" y="46.91" dy="1.0" fill="#eca8a8" textLength="20.4" lengthAdjust="spacingAndGlyphs" transform="rotate(-28.37 325.26 46.91)">WC  133742078</text>
<text x="323.85" y="44.46" dy="1.0" fill="#eca8a8" textLength="20.4" lengthAdjust="spacingAndGlyphs" transform="rotate(-31.70 323.85 44.46)">WN  34588892</text>
<text x="322.29" y="42.10" dy="1.0" fill="#eca8a8" textLength="20.4" lengthAdjust="spacingAndGlyphs" transform="rotate(-35.03 322.29 42.10)">BW  16627730</text>
<text x="320.61" y="39.83" dy="1.0" fill="#eca8a8" textLength="20.4" lengthAdjust="spacingAndGlyphs" transform="rotate(-38.37 320.61 39.83)">BC  753113361</text>
<text x="318.79" y="37.67" dy="1.0" fill="#eca8a8" textLength="20.4" lengthAdjust="spacingAndGlyphs" transform="rotate(-41.70 318.79 37.67)">AC  405810758</text>
<text x="316.85" y="35.61" dy="1.0" fill="#eca8a8" textLength="20.4" lengthAdjust="spacingAndGlyphs" transform="rotate(-45.03 316.85 35.61)">BA  031602852</text>
<text x="314.79" y="33.68" dy="1.0" fill="#eca8a8" textLength="20.4" lengthAdjust="spacingAndGlyphs" transform="rotate(-48.37 314.79 33.68)">BZ  791378848</text>
<text x="312.62" y="31.86" dy="1.0" fill="#eca8a8" textLength="20.4" lengthAdjust="spacingAndGlyphs" transform="rotate(-51.70 312.62 31.86)">WZ  469342884</text>
<text x="310.35" y="30.17" dy="1.0" fill="#d6d6d6" textLength="20.4" lengthAdjust="spacingAndGlyphs" transform="rotate(-55.03 310.35 30.17)">CB  68180960</text>
<text x="307.99" y="28.62" dy="1.0" fill="#eca8a8" textLength="20.4" lengthAdjust="spacingAndGlyphs" transform="rotate(-58.37 307.99 28.62)">CN  891712187</text>
<text x="305.54" y="27.21" dy="1.0" fill="#eca8a8" textLength="20.4" lengthAdjust="spacingAndGlyphs" transform="rotate(-61.70 305.54 27.21)">BB  377256785</text>
<text x="303.01" y="25.94" dy="1.0" fill="#eca8a8" textLength="20.4" lengthAdjust="spacingAndGlyphs" transform="rotate(-65.03 303.01 25.94)">NZ  904200323</text>
<text x="300.42" y="24.82" dy="1.0" fill="#eca8a8" textLength="20.4" lengthAdjust="spacingAndGlyphs" transform="rotate(-68.37 300.42 24.82)">NW  553971791</text>
<text x="297.76" y="23.86" dy="1.0" fill="#eca8a8" textLength="20.4" lengthAdjust="spacingAndGlyphs" transform="rotate(-71.70 297.76 23.86)">CC  386066892</text>
<text x="295.05" y="23.05" dy="1.0" fill="#eca8a8" textLength="20.4" lengthAdjust="spacingAndGlyphs" transform="rotate(-75.03 295.05 23.05)">CZ  83899235</text>
<text x="292.30" y="22.40" dy="1.0" fill="#d6d6d6" textLength="20.4" lengthAdjust="spacingAndGlyphs" transform="rotate(-78.37 292.30 22.40)">ZA  333123214</text>
<text x="289.52" y="21.91" dy="1.0" fill="#d6d6d6" textLength="20.4" lengthAdjust="spacingAndGlyphs" transform="rotate(-81.70 289.52 21.91)">BN  682360139</text>
<text x="286.71" y="21.58" dy="1.0" fill="#d6d6d6" textLength="20.4" lengthAdjust="spacingAndGlyphs" transform="rotate(-85.03 286.71 21.58)">WA  185831710</text>
<text x="283.89" y="21.42" dy="1.0" fill="#eca8a8" textLength="20.4" lengthAdjust="spacingAndGlyphs" transform="rotate(-88.37 283.89 21.42)">NC  232132241</text>
<text x="280.45" y="1.03" dy="1.0" fill="#eca8a8" textLength="20.4" lengthAdjust="spacingAndGlyphs" transform="rotate(88.30 280.45 1.03)">CN  71156768</text>
<text x="276.45" y="1.27" dy="1.0" fill="#eca8a8" textLength="20.4" lengthAdjust="spacingAndGlyphs" transform="rotate(84.97 276.45 1.27)">AB  95003267</text>
<text x="272.46" y="1.73" dy="1.0" fill="#eca8a8" textLength="20.4" lengthAdjust="spacingAndGlyphs" transform="rotate(81.63 272.46 1.73)">AW  639218051</text>
<text x="268.51" y="2.43" dy="1.0" fill="#eca8a8" textLength="20.4" lengthAdjust="spacingAndGlyphs" transform="rotate(78.30 268.51 2.43)">WW  993895441</text>
<text x="264.60" y="3.36" dy="1.0" fill="#eca8a8" textLength="20.4" lengthAdjust="spacingAndGlyphs" transform="rotate(74.97 264.60 3.36)">WW  62585626</text>
<text x="260.76" y="4.51" dy="1.0" fill="#50c4ac" textLength="20.4" lengthAdjust="spacingAndGlyphs" transform="rotate(71.63 260.76 4.51)">ZW  15471059</text>
<text x="256.99" y="5.89" dy="1.0" fill="#c0b4da" textLength="20.4" lengthAdjust="spacingAndGlyphs" transform="rotate(68.30 256.99 5.89)">NZ  453692816</text>
<text x="253.30" y="7.48" dy="1.0" fill="#c0b4da" textLength="20.4" lengthAdjust="spacingAndGlyphs" transform="rotate(64.97 253.30 7.48)">CB  16901913</text>
<text x="249.72" y="9.29" dy="1.0" fill="#c0b4da" textLength="20.4" lengthAdjust="spacingAndGlyphs" transform="rotate(61.63 249.72 9.29)">AB  803601444</text>
<text x="246.24" y="11.29" dy="1.0" fill="#c0b4da" textLength="20.4" lengthAdjust="spacingAndGlyphs" transform="rotate(58.30 246.24 11.29)">AC  891718906</text>
<text x="242.89" y="13.50" dy="1.0" fill="#c0b4da" textLength="20.4" lengthAdjust="spacingAndGlyphs" transform="rotate(54.97 242.89 13.50)">ZB  278990676</text>
<text x="239.67" y="15.90" dy="1.0" fill="#c0b4da" textLength="20.4" lengthAdjust="spacingAndGlyphs" transform="rotate(51.63 239.67 15.90)">AC  945847484</text>
<text x="236.60" y="18.48" dy="1.0" fill="#c0b4da" textLength="20.4" lengthAdjust="spacingAndGlyphs" transform="rotate(48.30 236.60 18.48)">WW  003902660</text>
<text x="233.68" y="21.24" dy="1.0" fill="#c0b4da" textLength="20.4" lengthAdjust="spacingAndGlyphs" transform="rotate(44.97 233.68 21.24)">AW  095136743</text>
<text x="230.93" y="24.16" dy="1.0" fill="#c0b4da" textLength="20.4" lengthAdjust="spacingAndGlyphs" transform="rotate(41.63 230.93 24.16)">NC  72391096</text>
<text x="228.35" y="27.24" dy="1.0" fill="#c0b4da" textLength="20.4" lengthAdjust="spacingAndGlyphs" transform="rotate(38.30 228.35 27.24)">BN  05821572</text>
<text x="225.96" y="30.46" dy="1.0" fill="#c0b4da" textLength="20.4" lengthAdjust="spacingAndGlyphs" transform="rotate(34.97 225.96 30.46)">WB  949658242</text>
<text x="223.75" y="33.81" dy="1.0" fill="#c0b4da" textLength="20.4" lengthAdjust="spacingAndGlyphs" transform="rotate(31.63 223.75 33.81)">ZB  84895449</text>
<text x="221.75" y="37.29" dy="1.0" fill="#c0b4da" textLength="20.4" lengthAdjust="spacingAndGlyphs" transform="rotate(28.30 221.75 37.29)">WW  43338300</text>
<text x="219.95" y="40.88" dy="1.0" fill="#c0b4da" textLength="20.4" lengthAdjust="spacingAndGlyphs" transform="rotate(24.97 219.95 40.88)">NA  609013841</text>
<text x="218.36" y="44.56" dy="1.0" fill="#d6d6d6" textLength="20.4" lengthAdjust="spacingAndGlyphs" transform="rotate(21.63 218.36 44.56)">NW  83577535</text>
<text x="216.99" y="48.33" dy="1.0" fill="#d6d6d6" textLength="20.4" lengthAdjust="spacingAndGlyphs" transform="rotate(18.30 216.99 48.33)">AB  11793764</text>
<text x="215.84" y="52.18" dy="1.0" fill="#888" textLength="20.4" lengthAdjust="spacingAndGlyphs" transform="rotate(14.97 215.84 52.18)">BZ  295482659</text>
<text x="214.92" y="56.09" dy="1.0" fill="#d6d6d6" textLength="20.4" lengthAdjust="spacingAndGlyphs" transform="rotate(11.63 214.92 56.09)">NB  181699774</text>
<text x="214.22" y="60.04" dy="1.0" fill="#d6d6d6" textLength="20.4" lengthAdjust="spacingAndGlyphs" transform="rotate(8.30 214.22 60.04)">NN  391475423</text>
<text x="213.76" y="64.03" dy="1.0" fill="#d6d6d6" textLength="20.4" lengthAdjust="spacingAndGlyphs" transform="rotate(4.97 213.76 64.03)">AW  515799478</text>
<text x="213.53" y="68.03" dy="1.0" fill="#d6d6d6" textLength="20.4" lengthAdjust="spacingAndGlyphs" transform="rotate(1.63 213.53 68.03)">AB  368315505</text>
<text x="213.53" y="72.05" dy="1.0" fill="#d6d6d6" textLength="20.4" lengthAdjust="spacingAndGlyphs" transform="rotate(-1.70 213.53 72.05)">WB  395682992</text>
<text x="213.77" y="76.05" dy="1.0" fill="#d6d6d6" textLength="20.4" lengthAdjust="spacingAndGlyphs" transform="rotate(-5.03 213.77 76.05)">ZN  403808294</text>
<text x="214.23" y="80.04" dy="1.0" fill="#d6d6d6" textLength="20.4" lengthAdjust="spacingAndGlyphs" transform="rotate(-8.37 214.23 80.04)">NW  198481514</text>
<text x="214.93" y="83.99" dy="1.0" fill="#d6d6d6" textLength="20.4" lengthAdjust="spacingAndGlyphs" transform="rotate(-11.70 214.93 83.99)">WN  102163378</text>
<text x="215.86" y="87.90" dy="1.0" fill="#d6d6d6" textLength="20.4" lengthAdjust="spacingAndGlyphs" transform="rotate(-15.03 215.86 87.90)">AB  555277819</text>
<text x="217.01" y="91.74" dy="1.0" fill="#d6d6d6" textLength="20.4" lengthAdjust="spacingAndGlyphs" transform="rotate(-18.37 217.01 91.74)">NB  061780850</text>
<text x="218.39" y="95.51" dy="1.0" fill="#d6d6d6" textLength="20.4" lengthAdjust="spacingAndGlyphs" transform="rotate(-21.70 218.39 95.51)">NB  232625366</text>
<text x="219.98" y="99.20" dy="1.0" fill="#d6d6d6" textLength="20.4" lengthAdjust="spacingAndGlyphs" transform="rotate(-25.03 219.98 99.20)">CA  074142207</text>
<text x="221.79" y="102.78" dy="1.0" fill="#d6d6d6" textLength="20.4" lengthAdjust="spacingAndGlyphs" transform="rotate(-28.37 221.79 102.78)">NC  051325393</text>
<text x="223.79" y="106.26" dy="1.0" fill="#d6d6d6" textLength="20.4" lengthAdjust="spacingAndGlyphs" transform="rotate(-31.70 223.79 106.26)">CW  983724624</text>
<text x="226.00" y="109.61" dy="1.0" fill="#d6d6d6" textLength="20.4" lengthAdjust="spacingAndGlyphs" transform="rotate(-35.03 226.00 109.61)">WC  476581736</text>
<text x="228.40" y="112.83" dy="1.0" fill="#d6d6d6" textLength="20.4" lengthAdjust="spacingAndGlyphs" transform="rotate(-38.37 228.40 112.83)">NZ  68840307</text>
<text x="230.98" y="115.90" dy="1.0" fill="#888" textLength="20.4" lengthAdjust="spacingAndGlyphs" transform="rotate(-41.70 230.98 115.90)">AB  69262524</text>
<text x="233.74" y="118.82" dy="1.0" fill="#d6d6d6" textLength="20.4" lengthAdjust="spacingAndGlyphs" transform="rotate(-45.03 233.74 118.82)">CZ  880292032</text>
<text x="236.66" y="121.57" dy="1.0" fill="#d6d6d6" textLength="20.4" lengthAdjust="spacingAndGlyphs" transform="rotate(-48.37 236.66 121.57)">ZN  498177198</text>
<text x="239.74" y="124.15" dy="1.0" fill="#d6d6d6" textLength="20.4" lengthAdjust="spacingAndGlyphs" transform="rotate(-51.70 239.74 124.15)">CA  36317308</text>
<text x="242.96" y="126.54" dy="1.0" fill="#d6d6d6" textLength="20.4" lengthAdjust="spacingAndGlyphs" transform="rotate(-55.03 242.96 126.54)">BC  245461847</text>
<text x="246.31" y="128.75" dy="1.0" fill="#dede70" textLength="20.4" lengthAdjust="spacingAndGlyphs" transform="rotate(-58.37 246.31 128.75)">WW  51216717</text>
<text x="249.79" y="130.75" dy="1.0" fill="#dede70" textLength="20.4" lengthAdjust="spacingAndGlyphs" transform="rotate(-61.70 249.79 130.75)">NB  349170392</text>
<text x="253.38" y="132.55" dy="1.0" fill="#dede70" textLength="20.4" lengthAdjust="spacingAndGlyphs" transform="rotate(-65.03 253.38 132.55)">AW  845681433</text>
<text x="257.06" y="134.14" dy="1.0" fill="#dede70" textLength="20.4" lengthAdjust="spacingAndGlyphs" transform="rotate(-68.37 257.06 134.14)">BW  54497576</text>
<text x="260.83" y="135.51" dy="1.0" fill="#d6d6d6" textLength="20.4" lengthAdjust="spacingAndGlyphs" transform="rotate(-71.70 260.83 135.51)">NN  91222360</text>
<text x="264.68" y="136.66" dy="1.0" fill="#d6d6d6" textLength="20.4" lengthAdjust="spacingAndGlyphs" transform="rotate(-75.03 264.68 136.66)">BC  13021661</text>
<text x="268.59" y="137.58" dy="1.0" fill="#d6d6d6" textLength="20.4" lengthAdjust="spacingAndGlyphs" transform="rotate(-78.37 268.59 137.58)">AB  32675690</text>
<text x="272.54" y="138.28" dy="1.0" fill="#70d4e4" textLength="20.4" lengthAdjust="spacingAndGlyphs" transform="rotate(-81.70 272.54 138.28)">WB  398045354</text>
<text x="276.53" y="138.74" dy="1.0" fill="#d6d6d6" textLength="20.4" lengthAdjust="spacingAndGlyphs" transform="rotate(-85.03 276.53 138.74)">WB  86385419</text>
<text x="280.53" y="138.97" dy="1.0" fill="#d6d6d6" textLength="20.4" lengthAdjust="spacingAndGlyphs" transform="rotate(-88.37 280.53 138.97)">WZ  848359882</text>
<text x="283.94" y="118.58" dy="1.0" fill="#d6d6d6" textLength="20.4" lengthAdjust="spacingAndGlyphs" transform="rotate(-271.70 283.94 118.58)">CW  83903123</text>
<text x="286.76" y="118.41" dy="1.0" fill="#d6d6d6" textLength="20.4" lengthAdjust="spacingAndGlyphs" transform="rotate(-275.03 286.76 118.41)">BC  551547172</text>
<text x="289.57" y="118.08" dy="1.0" fill="#d6d6d6" textLength="20.4" lengthAdjust="spacingAndGlyphs" transform="rotate(-278.37 289.57 118.08)">ZC  84259210</text>
<text x="292.36" y="117.59" dy="1.0" fill="#d6d6d6" textLength="20.4" lengthAdjust="spacingAndGlyphs" transform="rotate(-281.70 292.36 117.59)">AW  395229817</text>
<text x="295.11" y="116.94" dy="1.0" fill="#d6d6d6" textLength="20.4" lengthAdjust="spacingAndGlyphs" transform="rotate(-285.03 295.11 116.94)">NB  24699023</text>
<text x="297.81" y="116.12" dy="1.0" fill="#d6d6d6" textLength="20.4" lengthAdjust="spacingAndGlyphs" transform="rotate(-288.37 297.81 116.12)">BB  28619625</text>
<text x="300.47" y="115.16" dy="1.0" fill="#d6d6d6" textLength="20.4" lengthAdjust="spacingAndGlyphs" transform="rotate(-291.70 300.47 115.16)">CZ  395002679</text>
<text x="303.06" y="114.03" dy="1.0" fill="#d6d6d6" textLength="20.4" lengthAdjust="spacingAndGlyphs" transform="rotate(-295.03 303.06 114.03)">NB  699647766</text>
<text x="305.59" y="112.76" dy="1.0" fill="#d6d6d6" textLength="20.4" lengthAdjust="spacingAndGlyphs" transform="rotate(-298.37 305.59 112.76)">NC  85886605</text>
<text x="308.04" y="111.35" dy="1.0" fill="#d6d6d6" textLength="20.4" lengthAdjust="spacingAndGlyphs" transform="rotate(-301.70 308.04 111.35)">NA  695491317</text>
<text x="310.40" y="109.79" dy="1.0" fill="#d6d6d6" textLength="20.4" lengthAdjust="spacingAndGlyphs" transform="rotate(-305.03 310.40 109.79)">ZC  071838463</text>
<text x="312.67" y="108.11" dy="1.0" fill="#d6d6d6" textLength="20.4" lengthAdjust="spacingAndGlyphs" transform="rotate(-308.37 312.67 108.11)">NW  869236911</text>
<text x="314.83" y="106.29" dy="1.0" fill="#d6d6d6" textLength="20.4" lengthAdjust="spacingAndGlyphs" transform="rotate(-311.70 314.83 106.29)">NC  18970434</text>
<text x="316.89" y="104.35" dy="1.0" fill="#d6d6d6" textLength="20.4" lengthAdjust="spacingAndGlyphs" transform="rotate(-315.03 316.89 104.35)">NA  17786259</text>
<text x="318.82" y="102.29" dy="1.0" fill="#d6d6d6" textLength="20.4" lengthAdjust="spacingAndGlyphs" transform="rotate(-318.37 318.82 102.29)">ZN  075457273</text>
<text x="320.64" y="100.12" dy="1.0" fill="#d6d6d6" textLength="20.4" lengthAdjust="spacingAndGlyphs" transform="rotate(-321.70 320.64 100.12)">ZA  35570283</text>
<text x="322.33" y="97.85" dy="1.0" fill="#d6d6d6" textLength="20.4" lengthAdjust="spacingAndGlyphs" transform="rotate(-325.03 322.33 97.85)">CW  30145462</text>
<text x="323.88" y="95.49" dy="1.0" fill="#d6d6d6" textLength="20.4" lengthAdjust="spacingAndGlyphs" transform="rotate(-328.37 323.88 95.49)">AW  612341342</text>
<text x="325.29" y="93.04" dy="1.0" fill="#888" textLength="20.4" lengthAdjust="spacingAndGlyphs" transform="rotate(-331.70 325.29 93.04)">WZ  458198342</text>
<text x="326.56" y="90.51" dy="1.0" fill="#d6d6d6" textLength="20.4" lengthAdjust="spacingAndGlyphs" transform="rotate(-335.03 326.56 90.51)">WZ  217178180</text>
<text x="327.68" y="87.92" dy="1.0" fill="#888" textLength="20.4" lengthAdjust="spacingAndGlyphs" transform="rotate(-338.37 327.68 87.92)">NC  846912433</text>
<text x="328.64" y="85.26" dy="1.0" fill="#d6d6d6" textLength="20.4" lengthAdjust="spacingAndGlyphs" transform="rotate(-341.70 328.64 85.26)">ZA  22097960</text>
<text x="329.45" y="82.55" dy="1.0" fill="#d6d6d6" textLength="20.4" lengthAdjust="spacingAndGlyphs" transform="rotate(-345.03 329.45 82.55)">BN  18557084</text>
<text x="330.10" y="79.80" dy="1.0" fill="#d6d6d6" textLength="20.4" lengthAdjust="spacingAndGlyphs" transform="rotate(-348.37 330.10 79.80)">CW  92196378</text>
<text x="330.59" y="77.02" dy="1.0" fill="#d6d6d6" textLength="20.4" lengthAdjust="spacingAndGlyphs" transform="rotate(-351.70 330.59 77.02)">AW  47839974</text>
<text x="330.92" y="74.21" dy="1.0" fill="#d6d6d6" textLength="20.4" lengthAdjust="spacingAndGlyphs" transform="rotate(-355.03 330.92 74.21)">NZ  97252909</text>
<text x="331.08" y="71.39" dy="1.0" fill="#d6d6d6" textLength="20.4" lengthAdjust="spacingAndGlyphs" transform="rotate(-358.37 331.08 71.39)">BB  401129893</text>
</g>
<text x="359" y="56.9" font-size="4.2" fill="#333" stroke="#333" stroke-width="0.18">Groups</text>
<line x1="360.2" y1="61.70" x2="363.8" y2="61.70" stroke="#a8a4bc" stroke-width="0.9"/>
<text x="367" y="63.20" font-size="4.2" font-style="italic" fill="#333" stroke="#333" stroke-width="0.18">Bacillus</text>
<line x1="360.2" y1="67.75" x2="363.8" y2="67.75" stroke="#c4c49a" stroke-width="0.9"/>
<text x="367" y="69.25" font-size="4.2" font-style="italic" fill="#333" stroke="#333" stroke-width="0.18">Clostridium</text>
<line x1="360.2" y1="73.80" x2="363.8" y2="73.80" stroke="#c4aaaa" stroke-width="0.9"/>
<text x="367" y="75.30" font-size="4.2" font-style="italic" fill="#333" stroke="#333" stroke-width="0.18">Staphylococcus</text>
<line x1="360.2" y1="79.85" x2="363.8" y2="79.85" stroke="#5a9a8a" stroke-width="0.9"/>
<text x="367" y="81.35" font-size="4.2" font-style="italic" fill="#333" stroke="#333" stroke-width="0.18">Lactobacillus</text>
<line x1="360.2" y1="85.90" x2="363.8" y2="85.90" stroke="#b0c4cc" stroke-width="0.9"/>
<text x="367" y="87.40" font-size="4.2" font-style="italic" fill="#333" stroke="#333" stroke-width="0.18">Others</text>
<text x="0.8" y="142.9" font-size="6.5" font-weight="bold" fill="#111" stroke="#111" stroke-width="0.2">C</text>
<rect x="22.00" y="151.23" width="15.1" height="51.47" fill="#F8766D" stroke="#333" stroke-width="0.5"/>
<rect x="22.00" y="202.70" width="15.1" height="38.05" fill="#00BFC4" stroke="#333" stroke-width="0.5"/>
<text x="32.55" y="249.90" font-size="5.9" fill="#4d4d4d" stroke="#4d4d4d" stroke-width="0.1" text-anchor="end" transform="rotate(-45 32.55 249.90)">Bacillus</text>
<rect x="41.20" y="153.47" width="15.1" height="47.00" fill="#F8766D" stroke="#333" stroke-width="0.5"/>
<rect x="41.20" y="200.47" width="15.1" height="40.28" fill="#00BFC4" stroke="#333" stroke-width="0.5"/>
<text x="51.75" y="249.90" font-size="5.9" fill="#4d4d4d" stroke="#4d4d4d" stroke-width="0.1" text-anchor="end" transform="rotate(-45 51.75 249.90)">Paenibacillus</text>
<rect x="60.40" y="157.94" width="15.1" height="15.67" fill="#F8766D" stroke="#333" stroke-width="0.5"/>
<rect x="60.40" y="173.61" width="15.1" height="67.14" fill="#00BFC4" stroke="#333" stroke-width="0.5"/>
<text x="70.95" y="249.90" font-size="5.9" fill="#4d4d4d" stroke="#4d4d4d" stroke-width="0.1" text-anchor="end" transform="rotate(-45 70.95 249.90)">Streptococcus</text>
<rect x="79.60" y="162.42" width="15.1" height="6.71" fill="#F8766D" stroke="#333" stroke-width="0.5"/>
<rect x="79.60" y="169.13" width="15.1" height="71.62" fill="#00BFC4" stroke="#333" stroke-width="0.5"/>
<text x="90.15" y="249.90" font-size="5.9" fill="#4d4d4d" stroke="#4d4d4d" stroke-width="0.1" text-anchor="end" transform="rotate(-45 90.15 249.90)">Clostridium</text>
<rect x="98.80" y="178.09" width="15.1" height="62.66" fill="#F8766D" stroke="#333" stroke-width="0.5"/>
<text x="109.35" y="249.90" font-size="5.9" fill="#4d4d4d" stroke="#4d4d4d" stroke-width="0.1" text-anchor="end" transform="rotate(-45 109.35 249.90)">Staphylococcus</text>
<rect x="118.00" y="193.75" width="15.1" height="13.43" fill="#F8766D" stroke="#333" stroke-width="0.5"/>
<rect x="118.00" y="207.18" width="15.1" height="33.57" fill="#00BFC4" stroke="#333" stroke-width="0.5"/>
<text x="128.55" y="249.90" font-size="5.9" fill="#4d4d4d" stroke="#4d4d4d" stroke-width="0.1" text-anchor="end" transform="rotate(-45 128.55 249.90)">Lactobacillus</text>
<rect x="137.20" y="218.37" width="15.1" height="15.67" fill="#F8766D" stroke="#333" stroke-width="0.5"/>
<rect x="137.20" y="234.04" width="15.1" height="6.71" fill="#00BFC4" stroke="#333" stroke-width="0.5"/>
<text x="147.75" y="249.90" font-size="5.9" fill="#4d4d4d" stroke="#4d4d4d" stroke-width="0.1" text-anchor="end" transform="rotate(-45 147.75 249.90)">Enterococcus</text>
<path d="M17.85,147.2L17.85,244.5L156.3,244.5" fill="none" stroke="#000" stroke-width="1.4" stroke-linejoin="round"/>
<text x="14.4" y="242.50" font-size="5.0" fill="#4d4d4d" stroke="#4d4d4d" stroke-width="0.12" text-anchor="end">0</text>
<text x="14.4" y="220.12" font-size="5.0" fill="#4d4d4d" stroke="#4d4d4d" stroke-width="0.12" text-anchor="end">10</text>
<text x="14.4" y="197.74" font-size="5.0" fill="#4d4d4d" stroke="#4d4d4d" stroke-width="0.12" text-anchor="end">20</text>
<text x="14.4" y="175.36" font-size="5.0" fill="#4d4d4d" stroke="#4d4d4d" stroke-width="0.12" text-anchor="end">30</text>
<text x="14.4" y="152.98" font-size="5.0" fill="#4d4d4d" stroke="#4d4d4d" stroke-width="0.12" text-anchor="end">40</text>
<text x="5.5" y="196.2" font-size="6.0" fill="#111" stroke="#111" stroke-width="0.1" text-anchor="middle" transform="rotate(-90 5.5 196.2)">Number of genomes</text>
<text x="86.7" y="285.6" font-size="5.9" fill="#111" stroke="#111" stroke-width="0.1" text-anchor="middle">Genus</text>
<text x="164" y="188.6" font-size="5.3" fill="#111" stroke="#111" stroke-width="0.1">OfrA presence</text>
<rect x="164.2" y="192.1" width="7.4" height="7.9" fill="#F8766D" stroke="#333" stroke-width="0.5"/>
<rect x="164.2" y="200" width="7.4" height="8.2" fill="#00BFC4" stroke="#333" stroke-width="0.5"/>
<text x="175.1" y="198.2" font-size="5.8" fill="#111" stroke="#111" stroke-width="0.1">Present</text>
<text x="175.1" y="206.6" font-size="5.8" fill="#111" stroke="#111" stroke-width="0.1">Abscent</text>
<text x="230.1" y="151.5" font-size="6.6" font-weight="bold" fill="#111" stroke="#111" stroke-width="0.2">D</text>
<line x1="294.4" y1="147.6" x2="294.4" y2="388.7" stroke="#333" stroke-width="0.65"/>
<text x="291.4" y="155.00" font-size="7.4" font-style="italic" fill="#4d4d4d" stroke="#4d4d4d" stroke-width="0.18" text-anchor="end">S. aureus</text>
<line x1="292.3" y1="152.45" x2="294.4" y2="152.45" stroke="#333" stroke-width="0.6"/>
<circle cx="308.5" cy="152.45" r="2.2" fill="#807d9e" stroke="#302e46" stroke-width="0.9"/>
<circle cx="332.0" cy="152.45" r="2.2" fill="#807d9e" stroke="#302e46" stroke-width="0.9"/>
<circle cx="355.4" cy="152.45" r="2.2" fill="#807d9e" stroke="#302e46" stroke-width="0.9"/>
<circle cx="378.8" cy="152.45" r="2.2" fill="#807d9e" stroke="#302e46" stroke-width="0.9"/>
<text x="291.4" y="163.56" font-size="7.4" font-style="italic" fill="#4d4d4d" stroke="#4d4d4d" stroke-width="0.18" text-anchor="end">S. argenteus</text>
<line x1="292.3" y1="161.01" x2="294.4" y2="161.01" stroke="#333" stroke-width="0.6"/>
<circle cx="308.5" cy="161.01" r="2.2" fill="#807d9e" stroke="#302e46" stroke-width="0.9"/>
<circle cx="332.0" cy="161.01" r="2.2" fill="#807d9e" stroke="#302e46" stroke-width="0.9"/>
<circle cx="355.4" cy="161.01" r="2.2" fill="#807d9e" stroke="#302e46" stroke-width="0.9"/>
<circle cx="378.8" cy="161.01" r="2.2" fill="#fff" stroke="#3a3a3a" stroke-width="0.85"/>
<text x="291.4" y="172.13" font-size="7.4" font-style="italic" fill="#4d4d4d" stroke="#4d4d4d" stroke-width="0.18" text-anchor="end">S. schweitzeri</text>
<line x1="292.3" y1="169.58" x2="294.4" y2="169.58" stroke="#333" stroke-width="0.6"/>
<circle cx="308.5" cy="169.58" r="2.2" fill="#807d9e" stroke="#302e46" stroke-width="0.9"/>
<circle cx="332.0" cy="169.58" r="2.2" fill="#807d9e" stroke="#302e46" stroke-width="0.9"/>
<circle cx="355.4" cy="169.58" r="2.2" fill="#807d9e" stroke="#302e46" stroke-width="0.9"/>
<circle cx="378.8" cy="169.58" r="2.2" fill="#807d9e" stroke="#302e46" stroke-width="0.9"/>
<text x="291.4" y="180.69" font-size="7.4" font-style="italic" fill="#4d4d4d" stroke="#4d4d4d" stroke-width="0.18" text-anchor="end">S. pasteuri</text>
<line x1="292.3" y1="178.14" x2="294.4" y2="178.14" stroke="#333" stroke-width="0.6"/>
<circle cx="308.5" cy="178.14" r="2.2" fill="#807d9e" stroke="#302e46" stroke-width="0.9"/>
<circle cx="332.0" cy="178.14" r="2.2" fill="#fff" stroke="#3a3a3a" stroke-width="0.85"/>
<circle cx="355.4" cy="178.14" r="2.2" fill="#807d9e" stroke="#302e46" stroke-width="0.9"/>
<circle cx="378.8" cy="178.14" r="2.2" fill="#807d9e" stroke="#302e46" stroke-width="0.9"/>
<text x="291.4" y="189.26" font-size="7.4" font-style="italic" fill="#4d4d4d" stroke="#4d4d4d" stroke-width="0.18" text-anchor="end">S. warneri</text>
<line x1="292.3" y1="186.71" x2="294.4" y2="186.71" stroke="#333" stroke-width="0.6"/>
<circle cx="308.5" cy="186.71" r="2.2" fill="#807d9e" stroke="#302e46" stroke-width="0.9"/>
<circle cx="332.0" cy="186.71" r="2.2" fill="#fff" stroke="#3a3a3a" stroke-width="0.85"/>
<circle cx="355.4" cy="186.71" r="2.2" fill="#807d9e" stroke="#302e46" stroke-width="0.9"/>
<circle cx="378.8" cy="186.71" r="2.2" fill="#807d9e" stroke="#302e46" stroke-width="0.9"/>
<text x="291.4" y="197.82" font-size="7.4" font-style="italic" fill="#4d4d4d" stroke="#4d4d4d" stroke-width="0.18" text-anchor="end">S. epidermidis</text>
<line x1="292.3" y1="195.27" x2="294.4" y2="195.27" stroke="#333" stroke-width="0.6"/>
<circle cx="308.5" cy="195.27" r="2.2" fill="#807d9e" stroke="#302e46" stroke-width="0.9"/>
<circle cx="332.0" cy="195.27" r="2.2" fill="#fff" stroke="#3a3a3a" stroke-width="0.85"/>
<circle cx="355.4" cy="195.27" r="2.2" fill="#807d9e" stroke="#302e46" stroke-width="0.9"/>
<circle cx="378.8" cy="195.27" r="2.2" fill="#fff" stroke="#3a3a3a" stroke-width="0.85"/>
<text x="291.4" y="206.39" font-size="7.4" font-style="italic" fill="#4d4d4d" stroke="#4d4d4d" stroke-width="0.18" text-anchor="end">S. caprae</text>
<line x1="292.3" y1="203.84" x2="294.4" y2="203.84" stroke="#333" stroke-width="0.6"/>
<circle cx="308.5" cy="203.84" r="2.2" fill="#807d9e" stroke="#302e46" stroke-width="0.9"/>
<circle cx="332.0" cy="203.84" r="2.2" fill="#fff" stroke="#3a3a3a" stroke-width="0.85"/>
<circle cx="355.4" cy="203.84" r="2.2" fill="#807d9e" stroke="#302e46" stroke-width="0.9"/>
<circle cx="378.8" cy="203.84" r="2.2" fill="#807d9e" stroke="#302e46" stroke-width="0.9"/>
<text x="291.4" y="214.95" font-size="7.4" font-style="italic" fill="#4d4d4d" stroke="#4d4d4d" stroke-width="0.18" text-anchor="end">S. simiae</text>
<line x1="292.3" y1="212.40" x2="294.4" y2="212.40" stroke="#333" stroke-width="0.6"/>
<circle cx="308.5" cy="212.40" r="2.2" fill="#807d9e" stroke="#302e46" stroke-width="0.9"/>
<circle cx="332.0" cy="212.40" r="2.2" fill="#807d9e" stroke="#302e46" stroke-width="0.9"/>
<circle cx="355.4" cy="212.40" r="2.2" fill="#807d9e" stroke="#302e46" stroke-width="0.9"/>
<circle cx="378.8" cy="212.40" r="2.2" fill="#807d9e" stroke="#302e46" stroke-width="0.9"/>
<text x="291.4" y="223.52" font-size="7.4" font-style="italic" fill="#4d4d4d" stroke="#4d4d4d" stroke-width="0.18" text-anchor="end">S. capitis</text>
<line x1="292.3" y1="220.97" x2="294.4" y2="220.97" stroke="#333" stroke-width="0.6"/>
<circle cx="308.5" cy="220.97" r="2.2" fill="#807d9e" stroke="#302e46" stroke-width="0.9"/>
<circle cx="332.0" cy="220.97" r="2.2" fill="#fff" stroke="#3a3a3a" stroke-width="0.85"/>
<circle cx="355.4" cy="220.97" r="2.2" fill="#807d9e" stroke="#302e46" stroke-width="0.9"/>
<circle cx="378.8" cy="220.97" r="2.2" fill="#807d9e" stroke="#302e46" stroke-width="0.9"/>
<text x="291.4" y="232.08" font-size="7.4" font-style="italic" fill="#4d4d4d" stroke="#4d4d4d" stroke-width="0.18" text-anchor="end">S. haemolyticus</text>
<line x1="292.3" y1="229.53" x2="294.4" y2="229.53" stroke="#333" stroke-width="0.6"/>
<circle cx="308.5" cy="229.53" r="2.2" fill="#807d9e" stroke="#302e46" stroke-width="0.9"/>
<circle cx="332.0" cy="229.53" r="2.2" fill="#807d9e" stroke="#302e46" stroke-width="0.9"/>
<circle cx="355.4" cy="229.53" r="2.2" fill="#807d9e" stroke="#302e46" stroke-width="0.9"/>
<circle cx="378.8" cy="229.53" r="2.2" fill="#807d9e" stroke="#302e46" stroke-width="0.9"/>
<text x="291.4" y="240.65" font-size="7.4" font-style="italic" fill="#4d4d4d" stroke="#4d4d4d" stroke-width="0.18" text-anchor="end">S. saccharolyticus</text>
<line x1="292.3" y1="238.10" x2="294.4" y2="238.10" stroke="#333" stroke-width="0.6"/>
<circle cx="308.5" cy="238.10" r="2.2" fill="#807d9e" stroke="#302e46" stroke-width="0.9"/>
<circle cx="332.0" cy="238.10" r="2.2" fill="#fff" stroke="#3a3a3a" stroke-width="0.85"/>
<circle cx="355.4" cy="238.10" r="2.2" fill="#807d9e" stroke="#302e46" stroke-width="0.9"/>
<circle cx="378.8" cy="238.10" r="2.2" fill="#807d9e" stroke="#302e46" stroke-width="0.9"/>
<text x="291.4" y="249.21" font-size="7.4" font-style="italic" fill="#4d4d4d" stroke="#4d4d4d" stroke-width="0.18" text-anchor="end">S. hominis</text>
<line x1="292.3" y1="246.66" x2="294.4" y2="246.66" stroke="#333" stroke-width="0.6"/>
<circle cx="308.5" cy="246.66" r="2.2" fill="#807d9e" stroke="#302e46" stroke-width="0.9"/>
<circle cx="332.0" cy="246.66" r="2.2" fill="#fff" stroke="#3a3a3a" stroke-width="0.85"/>
<circle cx="355.4" cy="246.66" r="2.2" fill="#807d9e" stroke="#302e46" stroke-width="0.9"/>
<circle cx="378.8" cy="246.66" r="2.2" fill="#807d9e" stroke="#302e46" stroke-width="0.9"/>
<text x="291.4" y="257.78" font-size="7.4" font-style="italic" fill="#4d4d4d" stroke="#4d4d4d" stroke-width="0.18" text-anchor="end">S. lugdunensis</text>
<line x1="292.3" y1="255.23" x2="294.4" y2="255.23" stroke="#333" stroke-width="0.6"/>
<circle cx="308.5" cy="255.23" r="2.2" fill="#807d9e" stroke="#302e46" stroke-width="0.9"/>
<circle cx="332.0" cy="255.23" r="2.2" fill="#807d9e" stroke="#302e46" stroke-width="0.9"/>
<circle cx="355.4" cy="255.23" r="2.2" fill="#807d9e" stroke="#302e46" stroke-width="0.9"/>
<circle cx="378.8" cy="255.23" r="2.2" fill="#807d9e" stroke="#302e46" stroke-width="0.9"/>
<text x="291.4" y="266.34" font-size="7.4" font-style="italic" fill="#4d4d4d" stroke="#4d4d4d" stroke-width="0.18" text-anchor="end">S. equorum</text>
<line x1="292.3" y1="263.79" x2="294.4" y2="263.79" stroke="#333" stroke-width="0.6"/>
<circle cx="308.5" cy="263.79" r="2.2" fill="#807d9e" stroke="#302e46" stroke-width="0.9"/>
<circle cx="332.0" cy="263.79" r="2.2" fill="#807d9e" stroke="#302e46" stroke-width="0.9"/>
<circle cx="355.4" cy="263.79" r="2.2" fill="#807d9e" stroke="#302e46" stroke-width="0.9"/>
<circle cx="378.8" cy="263.79" r="2.2" fill="#807d9e" stroke="#302e46" stroke-width="0.9"/>
<text x="291.4" y="274.91" font-size="7.4" font-style="italic" fill="#4d4d4d" stroke="#4d4d4d" stroke-width="0.18" text-anchor="end">S. condimenti</text>
<line x1="292.3" y1="272.36" x2="294.4" y2="272.36" stroke="#333" stroke-width="0.6"/>
<circle cx="308.5" cy="272.36" r="2.2" fill="#807d9e" stroke="#302e46" stroke-width="0.9"/>
<circle cx="332.0" cy="272.36" r="2.2" fill="#fff" stroke="#3a3a3a" stroke-width="0.85"/>
<circle cx="355.4" cy="272.36" r="2.2" fill="#807d9e" stroke="#302e46" stroke-width="0.9"/>
<circle cx="378.8" cy="272.36" r="2.2" fill="#807d9e" stroke="#302e46" stroke-width="0.9"/>
<text x="291.4" y="283.47" font-size="7.4" font-style="italic" fill="#4d4d4d" stroke="#4d4d4d" stroke-width="0.18" text-anchor="end">S. saprophyticus</text>
<line x1="292.3" y1="280.92" x2="294.4" y2="280.92" stroke="#333" stroke-width="0.6"/>
<circle cx="308.5" cy="280.92" r="2.2" fill="#807d9e" stroke="#302e46" stroke-width="0.9"/>
<circle cx="332.0" cy="280.92" r="2.2" fill="#fff" stroke="#3a3a3a" stroke-width="0.85"/>
<circle cx="355.4" cy="280.92" r="2.2" fill="#807d9e" stroke="#302e46" stroke-width="0.9"/>
<circle cx="378.8" cy="280.92" r="2.2" fill="#807d9e" stroke="#302e46" stroke-width="0.9"/>
<text x="291.4" y="292.04" font-size="7.4" font-style="italic" fill="#4d4d4d" stroke="#4d4d4d" stroke-width="0.18" text-anchor="end">S. succinus</text>
<line x1="292.3" y1="289.49" x2="294.4" y2="289.49" stroke="#333" stroke-width="0.6"/>
<circle cx="308.5" cy="289.49" r="2.2" fill="#807d9e" stroke="#302e46" stroke-width="0.9"/>
<circle cx="332.0" cy="289.49" r="2.2" fill="#fff" stroke="#3a3a3a" stroke-width="0.85"/>
<circle cx="355.4" cy="289.49" r="2.2" fill="#807d9e" stroke="#302e46" stroke-width="0.9"/>
<circle cx="378.8" cy="289.49" r="2.2" fill="#807d9e" stroke="#302e46" stroke-width="0.9"/>
<text x="291.4" y="300.60" font-size="7.4" font-style="italic" fill="#4d4d4d" stroke="#4d4d4d" stroke-width="0.18" text-anchor="end">S. xylosus</text>
<line x1="292.3" y1="298.05" x2="294.4" y2="298.05" stroke="#333" stroke-width="0.6"/>
<circle cx="308.5" cy="298.05" r="2.2" fill="#807d9e" stroke="#302e46" stroke-width="0.9"/>
<circle cx="332.0" cy="298.05" r="2.2" fill="#807d9e" stroke="#302e46" stroke-width="0.9"/>
<circle cx="355.4" cy="298.05" r="2.2" fill="#807d9e" stroke="#302e46" stroke-width="0.9"/>
<circle cx="378.8" cy="298.05" r="2.2" fill="#807d9e" stroke="#302e46" stroke-width="0.9"/>
<text x="291.4" y="309.17" font-size="7.4" font-style="italic" fill="#4d4d4d" stroke="#4d4d4d" stroke-width="0.18" text-anchor="end">S. debuckii</text>
<line x1="292.3" y1="306.62" x2="294.4" y2="306.62" stroke="#333" stroke-width="0.6"/>
<circle cx="308.5" cy="306.62" r="2.2" fill="#807d9e" stroke="#302e46" stroke-width="0.9"/>
<circle cx="332.0" cy="306.62" r="2.2" fill="#fff" stroke="#3a3a3a" stroke-width="0.85"/>
<circle cx="355.4" cy="306.62" r="2.2" fill="#807d9e" stroke="#302e46" stroke-width="0.9"/>
<circle cx="378.8" cy="306.62" r="2.2" fill="#807d9e" stroke="#302e46" stroke-width="0.9"/>
<text x="291.4" y="317.73" font-size="7.4" font-style="italic" fill="#4d4d4d" stroke="#4d4d4d" stroke-width="0.18" text-anchor="end">S. lloydii</text>
<line x1="292.3" y1="315.18" x2="294.4" y2="315.18" stroke="#333" stroke-width="0.6"/>
<circle cx="308.5" cy="315.18" r="2.2" fill="#807d9e" stroke="#302e46" stroke-width="0.9"/>
<circle cx="332.0" cy="315.18" r="2.2" fill="#fff" stroke="#3a3a3a" stroke-width="0.85"/>
<circle cx="355.4" cy="315.18" r="2.2" fill="#807d9e" stroke="#302e46" stroke-width="0.9"/>
<circle cx="378.8" cy="315.18" r="2.2" fill="#807d9e" stroke="#302e46" stroke-width="0.9"/>
<text x="291.4" y="326.30" font-size="7.4" font-style="italic" fill="#4d4d4d" stroke="#4d4d4d" stroke-width="0.18" text-anchor="end">S. pettenkoferi</text>
<line x1="292.3" y1="323.75" x2="294.4" y2="323.75" stroke="#333" stroke-width="0.6"/>
<circle cx="308.5" cy="323.75" r="2.2" fill="#807d9e" stroke="#302e46" stroke-width="0.9"/>
<circle cx="332.0" cy="323.75" r="2.2" fill="#fff" stroke="#3a3a3a" stroke-width="0.85"/>
<circle cx="355.4" cy="323.75" r="2.2" fill="#807d9e" stroke="#302e46" stroke-width="0.9"/>
<circle cx="378.8" cy="323.75" r="2.2" fill="#807d9e" stroke="#302e46" stroke-width="0.9"/>
<text x="291.4" y="334.86" font-size="7.4" font-style="italic" fill="#4d4d4d" stroke="#4d4d4d" stroke-width="0.18" text-anchor="end">S. auricularis</text>
<line x1="292.3" y1="332.31" x2="294.4" y2="332.31" stroke="#333" stroke-width="0.6"/>
<circle cx="308.5" cy="332.31" r="2.2" fill="#807d9e" stroke="#302e46" stroke-width="0.9"/>
<circle cx="332.0" cy="332.31" r="2.2" fill="#807d9e" stroke="#302e46" stroke-width="0.9"/>
<circle cx="355.4" cy="332.31" r="2.2" fill="#807d9e" stroke="#302e46" stroke-width="0.9"/>
<circle cx="378.8" cy="332.31" r="2.2" fill="#fff" stroke="#3a3a3a" stroke-width="0.85"/>
<text x="291.4" y="343.43" font-size="7.4" font-style="italic" fill="#4d4d4d" stroke="#4d4d4d" stroke-width="0.18" text-anchor="end">S. felis</text>
<line x1="292.3" y1="340.88" x2="294.4" y2="340.88" stroke="#333" stroke-width="0.6"/>
<circle cx="308.5" cy="340.88" r="2.2" fill="#807d9e" stroke="#302e46" stroke-width="0.9"/>
<circle cx="332.0" cy="340.88" r="2.2" fill="#fff" stroke="#3a3a3a" stroke-width="0.85"/>
<circle cx="355.4" cy="340.88" r="2.2" fill="#fff" stroke="#3a3a3a" stroke-width="0.85"/>
<circle cx="378.8" cy="340.88" r="2.2" fill="#fff" stroke="#3a3a3a" stroke-width="0.85"/>
<text x="291.4" y="351.99" font-size="7.4" font-style="italic" fill="#4d4d4d" stroke="#4d4d4d" stroke-width="0.18" text-anchor="end">S. lutrae</text>
<line x1="292.3" y1="349.44" x2="294.4" y2="349.44" stroke="#333" stroke-width="0.6"/>
<circle cx="308.5" cy="349.44" r="2.2" fill="#807d9e" stroke="#302e46" stroke-width="0.9"/>
<circle cx="332.0" cy="349.44" r="2.2" fill="#fff" stroke="#3a3a3a" stroke-width="0.85"/>
<circle cx="355.4" cy="349.44" r="2.2" fill="#fff" stroke="#3a3a3a" stroke-width="0.85"/>
<circle cx="378.8" cy="349.44" r="2.2" fill="#fff" stroke="#3a3a3a" stroke-width="0.85"/>
<text x="291.4" y="360.56" font-size="7.4" font-style="italic" fill="#4d4d4d" stroke="#4d4d4d" stroke-width="0.18" text-anchor="end">S. pseudintermedius</text>
<line x1="292.3" y1="358.01" x2="294.4" y2="358.01" stroke="#333" stroke-width="0.6"/>
<circle cx="308.5" cy="358.01" r="2.2" fill="#807d9e" stroke="#302e46" stroke-width="0.9"/>
<circle cx="332.0" cy="358.01" r="2.2" fill="#fff" stroke="#3a3a3a" stroke-width="0.85"/>
<circle cx="355.4" cy="358.01" r="2.2" fill="#fff" stroke="#3a3a3a" stroke-width="0.85"/>
<circle cx="378.8" cy="358.01" r="2.2" fill="#fff" stroke="#3a3a3a" stroke-width="0.85"/>
<text x="291.4" y="369.12" font-size="7.4" font-style="italic" fill="#4d4d4d" stroke="#4d4d4d" stroke-width="0.18" text-anchor="end">S. hyicus</text>
<line x1="292.3" y1="366.57" x2="294.4" y2="366.57" stroke="#333" stroke-width="0.6"/>
<circle cx="308.5" cy="366.57" r="2.2" fill="#807d9e" stroke="#302e46" stroke-width="0.9"/>
<circle cx="332.0" cy="366.57" r="2.2" fill="#fff" stroke="#3a3a3a" stroke-width="0.85"/>
<circle cx="355.4" cy="366.57" r="2.2" fill="#fff" stroke="#3a3a3a" stroke-width="0.85"/>
<circle cx="378.8" cy="366.57" r="2.2" fill="#fff" stroke="#3a3a3a" stroke-width="0.85"/>
<text x="291.4" y="377.69" font-size="7.4" font-style="italic" fill="#4d4d4d" stroke="#4d4d4d" stroke-width="0.18" text-anchor="end">S. muscae</text>
<line x1="292.3" y1="375.14" x2="294.4" y2="375.14" stroke="#333" stroke-width="0.6"/>
<circle cx="308.5" cy="375.14" r="2.2" fill="#807d9e" stroke="#302e46" stroke-width="0.9"/>
<circle cx="332.0" cy="375.14" r="2.2" fill="#fff" stroke="#3a3a3a" stroke-width="0.85"/>
<circle cx="355.4" cy="375.14" r="2.2" fill="#fff" stroke="#3a3a3a" stroke-width="0.85"/>
<circle cx="378.8" cy="375.14" r="2.2" fill="#fff" stroke="#3a3a3a" stroke-width="0.85"/>
<text x="291.4" y="386.25" font-size="7.4" font-style="italic" fill="#4d4d4d" stroke="#4d4d4d" stroke-width="0.18" text-anchor="end">S. agnetis</text>
<line x1="292.3" y1="383.70" x2="294.4" y2="383.70" stroke="#333" stroke-width="0.6"/>
<circle cx="308.5" cy="383.70" r="2.2" fill="#807d9e" stroke="#302e46" stroke-width="0.9"/>
<circle cx="332.0" cy="383.70" r="2.2" fill="#fff" stroke="#3a3a3a" stroke-width="0.85"/>
<circle cx="355.4" cy="383.70" r="2.2" fill="#fff" stroke="#3a3a3a" stroke-width="0.85"/>
<circle cx="378.8" cy="383.70" r="2.2" fill="#fff" stroke="#3a3a3a" stroke-width="0.85"/>
<text x="308.5" y="397.9" font-size="7" fill="#4d4d4d" stroke="#4d4d4d" stroke-width="0.15" text-anchor="middle">OfrA</text>
<text x="332.0" y="397.9" font-size="7" fill="#4d4d4d" stroke="#4d4d4d" stroke-width="0.15" text-anchor="middle">OfrB</text>
<text x="355.4" y="397.9" font-size="7" fill="#4d4d4d" stroke="#4d4d4d" stroke-width="0.15" text-anchor="middle">MvaA</text>
<text x="378.8" y="397.9" font-size="7" fill="#4d4d4d" stroke="#4d4d4d" stroke-width="0.15" text-anchor="middle">CrtM</text>
</svg>
</body></html>
